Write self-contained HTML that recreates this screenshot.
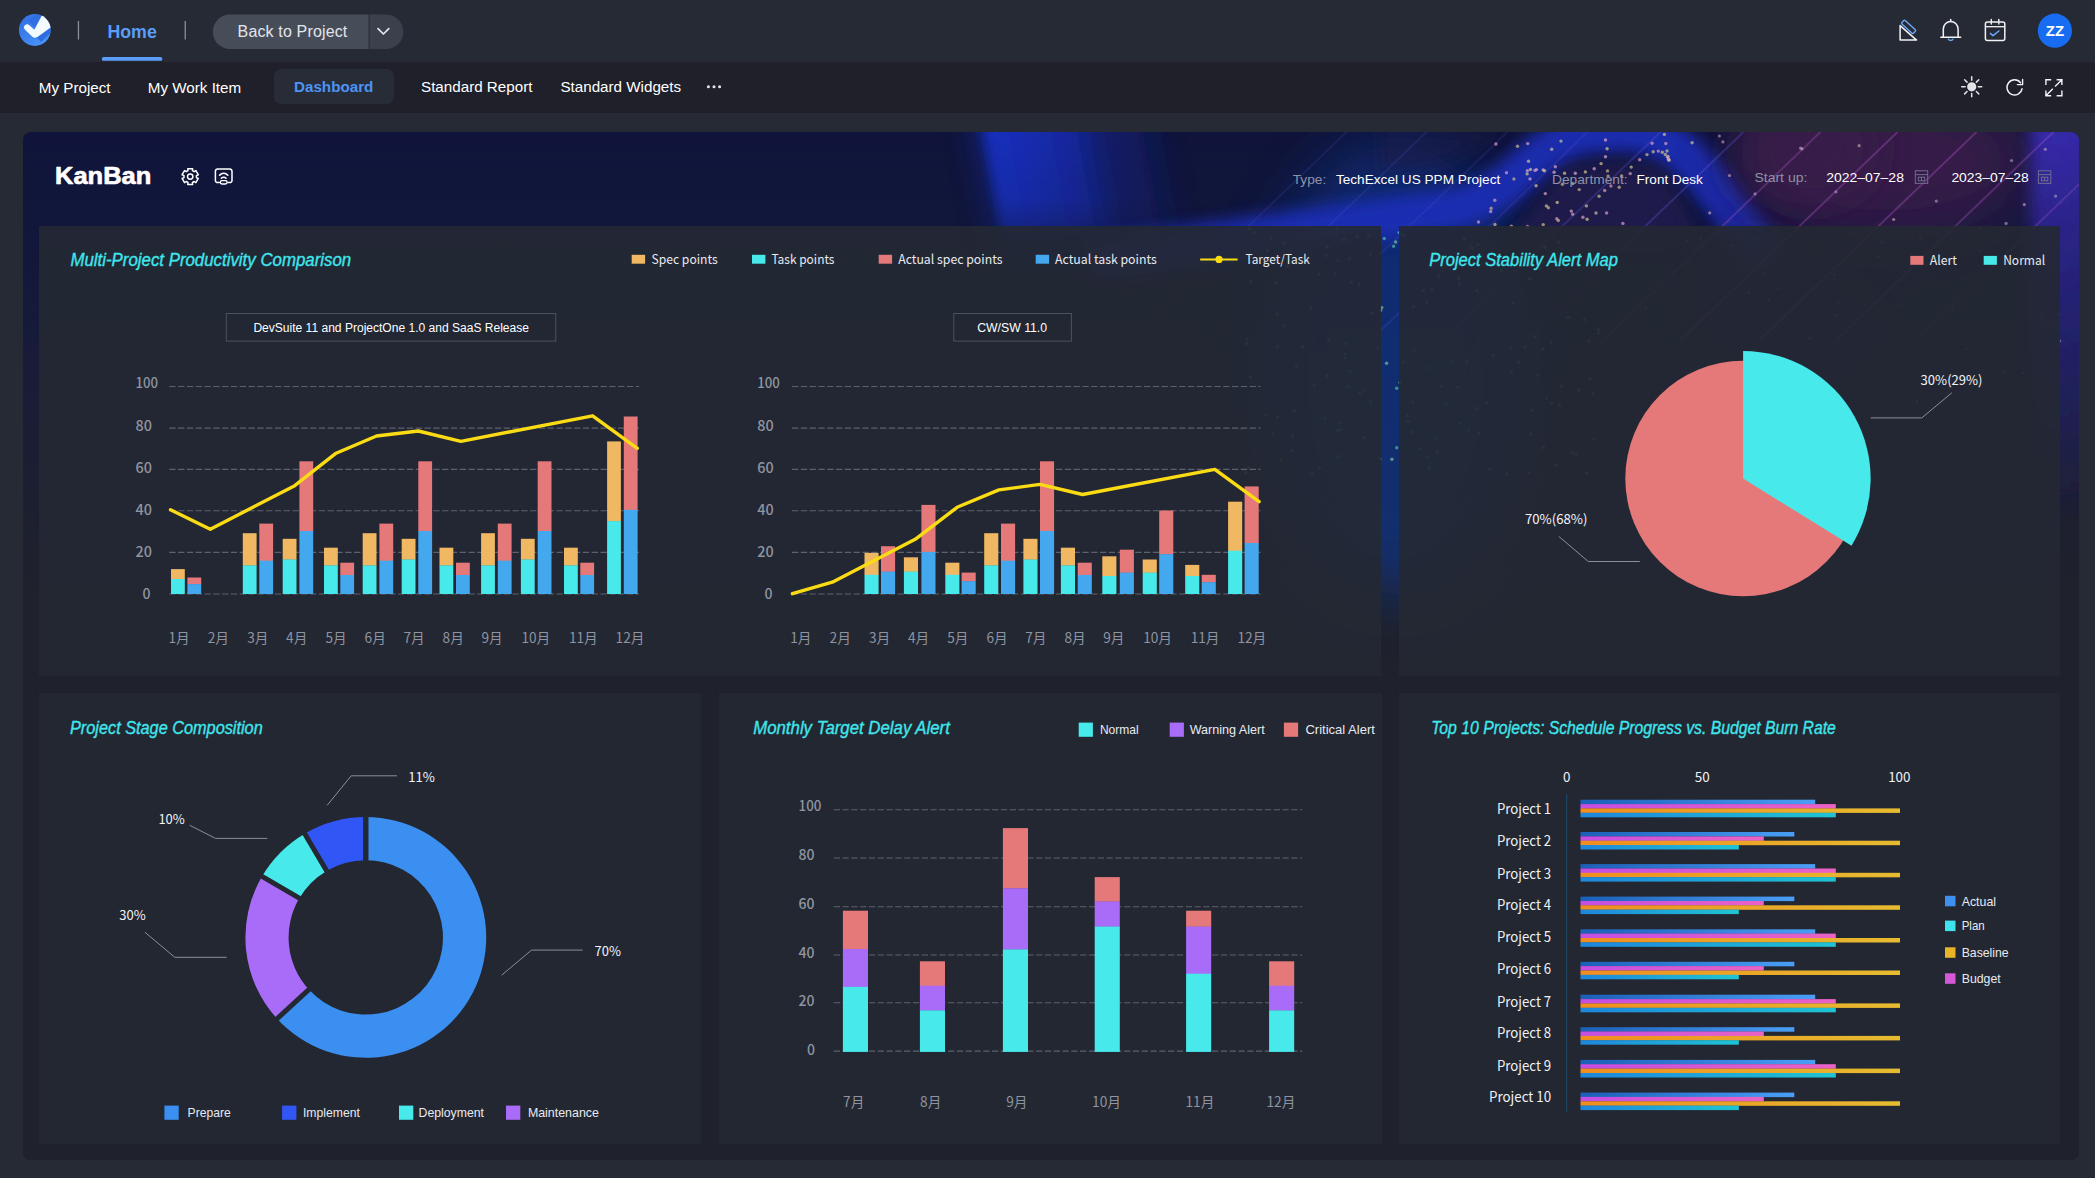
<!DOCTYPE html>
<html lang="en"><head><meta charset="utf-8"><title>KanBan Dashboard</title>
<style>
*{box-sizing:border-box;margin:0;padding:0}
html,body{width:2095px;height:1178px;overflow:hidden}
body{position:relative;background:#262a34;font-family:"Liberation Sans","Noto Sans CJK SC",sans-serif;color:#fff}
.abs{position:absolute}
.t{position:absolute;white-space:nowrap;line-height:1}
.noto{font-family:"Noto Sans CJK SC","Liberation Sans",sans-serif}
#topbar{position:absolute;left:0;top:0;width:2095px;height:62px;background:#262a35}
#subbar{position:absolute;left:0;top:62px;width:2095px;height:51px;background:#1f2029}
#board{position:absolute;left:22.5px;top:132px;width:2056px;height:1028px;border-radius:8px;overflow:hidden;background:#1f212c}
.panel{position:absolute;background:rgba(36,40,51,0.915)}
.ptitle{position:absolute;white-space:nowrap;line-height:1;font-style:italic;color:#3fe3ea;font-size:18px;letter-spacing:-0.9px;font-family:"Liberation Sans",sans-serif}
.lg{position:absolute;white-space:nowrap;line-height:1;font-size:13px;color:#e6e8ee}
.ax{position:absolute;white-space:nowrap;line-height:1;font-size:14px;color:#8e95a1;font-family:"Noto Sans CJK SC","Liberation Sans",sans-serif}
.sw{position:absolute}
svg{position:absolute;left:0;top:0;overflow:visible}
</style></head>
<body>
<div id="topbar">
<svg width="2095" height="62" viewBox="0 0 2095 62">
 <defs>
  <linearGradient id="lgLogo" x1="0" y1="0" x2="1" y2="1"><stop offset="0" stop-color="#2f6ce0"/><stop offset="1" stop-color="#4d9bff"/></linearGradient>
 </defs>
 <clipPath id="cpLogo"><circle cx="34.8" cy="30" r="15.9"/></clipPath>
 <circle cx="34.8" cy="30" r="15.9" fill="url(#lgLogo)"/>
 <g clip-path="url(#cpLogo)">
  <path d="M34.6 35 L50 19.5 L53 31 L41 42 Z" fill="#1f55d2" opacity="0.6"/><path d="M28 20 L36 29 L46 17 L40 12 Z" fill="#2a62d8" opacity="0.5"/>
  <path d="M27.2 27.5 L34.6 34.4 L44 25" fill="none" stroke="#f4fbff" stroke-width="6.3" stroke-linejoin="round" stroke-linecap="round"/><path d="M34.6 29.2 L42.4 14.5 L54 14 L54 25 L36.8 37.4 L33.6 34.4 Z" fill="#f4fbff"/>
 </g>
 <rect x="77.8" y="21" width="1.3" height="18.5" fill="#8b909c"/>
 <rect x="184.6" y="21" width="1.3" height="18.5" fill="#8b909c"/>
 <rect x="101.8" y="57" width="60.6" height="3.8" rx="1.9" fill="#5b9df7"/>
 <path d="M230.2 14.4 H368.5 V49.1 H230.2 A17.35 17.35 0 0 1 230.2 14.4 Z" fill="#474c59"/>
 <path d="M369.5 14.4 H386 A17.35 17.35 0 0 1 386 49.1 H369.5 Z" fill="#3b404c"/>
 <path d="M378 28.6 L383.4 34 L388.8 28.6" fill="none" stroke="#e4e7ee" stroke-width="1.7" stroke-linecap="round" stroke-linejoin="round"/>
</svg>
<div class="t" style="left:107.4px;top:24.1px;font-size:17.8px;font-weight:bold;color:#5b9df7">Home</div>
<div class="t" style="left:237.6px;top:24.2px;font-size:16px;letter-spacing:0.15px;color:#e2e5ec">Back to Project</div>
</div>
<div id="subbar">
<div class="abs" style="left:274px;top:7px;width:120px;height:35px;border-radius:7px;background:#282c37"></div>
<div class="t" style="left:38.8px;top:18px;font-size:15.2px;color:#fff">My Project</div>
<div class="t" style="left:147.8px;top:18px;font-size:15.2px;color:#fff">My Work Item</div>
<div class="t" style="left:294px;top:17px;font-size:15.2px;font-weight:bold;color:#4c94f5">Dashboard</div>
<div class="t" style="left:421px;top:17px;font-size:15.2px;color:#fff">Standard Report</div>
<div class="t" style="left:560.4px;top:17px;font-size:15.2px;color:#fff">Standard Widgets</div>
<svg width="2095" height="51" viewBox="0 62 2095 51">
 <circle cx="708.4" cy="86.8" r="1.5" fill="#e6e8ee"/><circle cx="714" cy="86.8" r="1.5" fill="#e6e8ee"/><circle cx="719.6" cy="86.8" r="1.5" fill="#e6e8ee"/>
</svg>
</div>
<div id="board">
<svg id="bg" width="2056" height="1028" viewBox="22.5 132 2056 1028">
<defs>
<linearGradient id="bgBase" x1="0" y1="0" x2="0" y2="1"><stop offset="0" stop-color="#10143a"/><stop offset="0.09" stop-color="#11163b"/><stop offset="0.20" stop-color="#171b3a"/><stop offset="0.34" stop-color="#1c1f31"/><stop offset="0.45" stop-color="#1f212c"/><stop offset="1" stop-color="#1f212c"/></linearGradient>
<linearGradient id="bgBand" gradientUnits="userSpaceOnUse" x1="978" y1="0" x2="1185" y2="0" gradientTransform="translate(-24.1 0) skewX(10.33)"><stop offset="0.000" stop-color="#1631c8" stop-opacity="0.000"/><stop offset="0.042" stop-color="#1530c5" stop-opacity="0.852"/><stop offset="0.083" stop-color="#152fc2" stop-opacity="0.919"/><stop offset="0.125" stop-color="#152fc0" stop-opacity="0.915"/><stop offset="0.167" stop-color="#152ebd" stop-opacity="0.910"/><stop offset="0.208" stop-color="#152dba" stop-opacity="0.903"/><stop offset="0.250" stop-color="#152db8" stop-opacity="0.896"/><stop offset="0.292" stop-color="#152cb5" stop-opacity="0.889"/><stop offset="0.333" stop-color="#152cb2" stop-opacity="0.884"/><stop offset="0.375" stop-color="#152bb0" stop-opacity="0.881"/><stop offset="0.417" stop-color="#152aad" stop-opacity="0.875"/><stop offset="0.458" stop-color="#152aaa" stop-opacity="0.821"/><stop offset="0.500" stop-color="#1529a8" stop-opacity="0.728"/><stop offset="0.542" stop-color="#1428a5" stop-opacity="0.619"/><stop offset="0.583" stop-color="#1428a2" stop-opacity="0.516"/><stop offset="0.625" stop-color="#1427a0" stop-opacity="0.443"/><stop offset="0.667" stop-color="#14279d" stop-opacity="0.420"/><stop offset="0.708" stop-color="#14269a" stop-opacity="0.397"/><stop offset="0.750" stop-color="#142598" stop-opacity="0.347"/><stop offset="0.792" stop-color="#142595" stop-opacity="0.280"/><stop offset="0.833" stop-color="#142492" stop-opacity="0.204"/><stop offset="0.875" stop-color="#142390" stop-opacity="0.129"/><stop offset="0.917" stop-color="#14238d" stop-opacity="0.063"/><stop offset="0.958" stop-color="#14228a" stop-opacity="0.017"/><stop offset="1.000" stop-color="#142288" stop-opacity="0.000"/></linearGradient>
<linearGradient id="bgBandV" x1="0" y1="0" x2="0" y2="1"><stop offset="0" stop-color="#fff" stop-opacity="1"/><stop offset="0.2" stop-color="#fff" stop-opacity="0.85"/><stop offset="0.3" stop-color="#fff" stop-opacity="0.55"/><stop offset="0.44" stop-color="#fff" stop-opacity="0"/><stop offset="1" stop-color="#fff" stop-opacity="0"/></linearGradient>
<mask id="mBand"><rect x="900" y="132" width="400" height="330" fill="url(#bgBandV)"/></mask>
<linearGradient id="bgRight" x1="0" y1="0" x2="0" y2="1"><stop offset="0" stop-color="#3a2bb4" stop-opacity="0.95"/><stop offset="0.5" stop-color="#2b2590" stop-opacity="0.6"/><stop offset="1" stop-color="#2b2590" stop-opacity="0"/></linearGradient>
<filter id="bl8" x="-30%" y="-30%" width="160%" height="160%"><feGaussianBlur stdDeviation="8"/></filter>
<filter id="bl16" x="-40%" y="-40%" width="180%" height="180%"><feGaussianBlur stdDeviation="16"/></filter>
<filter id="bl30" x="-50%" y="-50%" width="200%" height="200%"><feGaussianBlur stdDeviation="30"/></filter>
<filter id="bl1" filterUnits="userSpaceOnUse" x="1000" y="100" width="1100" height="500"><feGaussianBlur stdDeviation="0.7"/></filter>
<filter id="bl3" x="-20%" y="-20%" width="140%" height="140%"><feGaussianBlur stdDeviation="5"/></filter>
</defs>
<rect x="22" y="132" width="2058" height="1030" fill="url(#bgBase)"/>
<ellipse cx="1395" cy="370" rx="135" ry="225" fill="#103894" opacity="0.62" filter="url(#bl30)"/>
<path d="M1090 260 L1400 217 C1440 212, 1472 209, 1500 189 C1524 171, 1540 150, 1570 138 C1590 131, 1632 128, 1656 137 C1692 151, 1722 200, 1766 258" fill="none" stroke="#1f2db8" stroke-width="42" stroke-linejoin="round" opacity="0.92" filter="url(#bl8)"/>
<path d="M1380 132 L1500 132 L1450 160 L1380 175 Z" fill="#1f1a4a" opacity="0.5" filter="url(#bl8)"/>
<path d="M1506 246 L1560 170 C1582 160, 1640 160, 1662 168 L1710 246 Z" fill="#211c50" opacity="0.8" filter="url(#bl8)"/>
<ellipse cx="1885" cy="160" rx="150" ry="80" fill="#391a4a" opacity="0.95" filter="url(#bl30)"/>
<ellipse cx="1810" cy="150" rx="70" ry="55" fill="#371a48" opacity="0.9" filter="url(#bl16)"/>
<path d="M1700 236 L1790 236 L1900 330 L1820 420 L1690 330 Z" fill="#231c50" opacity="0.6" filter="url(#bl16)"/>
<rect x="2030" y="120" width="60" height="400" fill="url(#bgRight)" filter="url(#bl8)"/>
<g mask="url(#mBand)"><path d="M972 110 L1040 110 L1104 460 L1036 460 Z" fill="#1630c4" opacity="0.5" filter="url(#bl16)"/><path d="M970 110 L1220 110 L1284 460 L1034 460 Z" fill="url(#bgBand)" filter="url(#bl3)"/></g>
<line x1="1128.0" y1="341.2" x2="1346" y2="131.92000000000002" stroke="#6a62f0" stroke-width="2" opacity="0.12" filter="url(#bl1)"/>
<line x1="1208.0" y1="341.2" x2="1426" y2="131.92000000000002" stroke="#6a62f0" stroke-width="2" opacity="0.14" filter="url(#bl1)"/>
<line x1="1289.0" y1="341.2" x2="1507" y2="131.92000000000002" stroke="#6a62f0" stroke-width="2" opacity="0.13" filter="url(#bl1)"/>
<line x1="1369.0" y1="341.2" x2="1587" y2="131.92000000000002" stroke="#6a62f0" stroke-width="2" opacity="0.15" filter="url(#bl1)"/>
<line x1="1442.0" y1="341.2" x2="1660" y2="131.92000000000002" stroke="#6a62f0" stroke-width="2" opacity="0.24" filter="url(#bl1)"/>
<line x1="1525.0" y1="341.2" x2="1743" y2="131.92000000000002" stroke="#6a62f0" stroke-width="2" opacity="0.27" filter="url(#bl1)"/>
<line x1="1602.0" y1="341.2" x2="1820" y2="131.92000000000002" stroke="#c060d8" stroke-width="2" opacity="0.27" filter="url(#bl1)"/>
<line x1="1679.0" y1="341.2" x2="1897" y2="131.92000000000002" stroke="#c060d8" stroke-width="2" opacity="0.3" filter="url(#bl1)"/>
<line x1="1758.0" y1="341.2" x2="1976" y2="131.92000000000002" stroke="#c060d8" stroke-width="2" opacity="0.3" filter="url(#bl1)"/>
<line x1="1835.0" y1="341.2" x2="2053" y2="131.92000000000002" stroke="#c060d8" stroke-width="2" opacity="0.27" filter="url(#bl1)"/>
<line x1="1915.0" y1="341.2" x2="2133" y2="131.92000000000002" stroke="#c060d8" stroke-width="2" opacity="0.22" filter="url(#bl1)"/>
<circle cx="1478.0" cy="222.0" r="1.7" fill="#d79ac6" opacity="0.7"/>
<circle cx="1494.5" cy="224.5" r="1.7" fill="#cfc08f" opacity="0.7"/>
<circle cx="1510.9" cy="226.3" r="1.7" fill="#cfc08f" opacity="0.7"/>
<circle cx="1527.0" cy="226.5" r="1.7" fill="#d79ac6" opacity="0.7"/>
<circle cx="1542.7" cy="224.6" r="1.7" fill="#cfc08f" opacity="0.7"/>
<circle cx="1557.8" cy="220.5" r="1.7" fill="#cfc08f" opacity="0.7"/>
<circle cx="1572.2" cy="214.2" r="1.7" fill="#d79ac6" opacity="0.7"/>
<circle cx="1585.9" cy="205.9" r="1.7" fill="#cfc08f" opacity="0.7"/>
<circle cx="1598.6" cy="196.3" r="1.7" fill="#cfc08f" opacity="0.7"/>
<circle cx="1610.4" cy="186.0" r="1.7" fill="#d79ac6" opacity="0.7"/>
<circle cx="1621.1" cy="176.0" r="1.7" fill="#cfc08f" opacity="0.7"/>
<circle cx="1630.7" cy="167.1" r="1.7" fill="#cfc08f" opacity="0.7"/>
<circle cx="1639.2" cy="159.8" r="1.7" fill="#d79ac6" opacity="0.7"/>
<circle cx="1646.5" cy="154.6" r="1.7" fill="#cfc08f" opacity="0.7"/>
<circle cx="1652.7" cy="151.8" r="1.7" fill="#cfc08f" opacity="0.7"/>
<circle cx="1657.8" cy="151.1" r="1.7" fill="#d79ac6" opacity="0.7"/>
<circle cx="1661.8" cy="152.2" r="1.7" fill="#cfc08f" opacity="0.7"/>
<circle cx="1664.8" cy="154.5" r="1.7" fill="#cfc08f" opacity="0.7"/>
<circle cx="1666.8" cy="157.1" r="1.7" fill="#d79ac6" opacity="0.7"/>
<circle cx="1668.0" cy="159.3" r="1.7" fill="#cfc08f" opacity="0.7"/>
<circle cx="1668.5" cy="160.3" r="1.7" fill="#cfc08f" opacity="0.7"/>
<circle cx="1668.3" cy="159.4" r="1.7" fill="#d79ac6" opacity="0.7"/>
<circle cx="1667.6" cy="156.4" r="1.7" fill="#cfc08f" opacity="0.7"/>
<circle cx="1666.5" cy="151.0" r="1.7" fill="#cfc08f" opacity="0.7"/>
<circle cx="1665.3" cy="143.5" r="1.7" fill="#d79ac6" opacity="0.7"/>
<circle cx="1663.9" cy="134.4" r="1.7" fill="#cfc08f" opacity="0.7"/>
<circle cx="1605.0" cy="140.0" r="1.7" fill="#e0a8cc" opacity="0.7"/>
<circle cx="1606.6" cy="148.7" r="1.7" fill="#d9c890" opacity="0.7"/>
<circle cx="1605.0" cy="156.8" r="1.7" fill="#e0a8cc" opacity="0.7"/>
<circle cx="1600.6" cy="163.6" r="1.7" fill="#d9c890" opacity="0.7"/>
<circle cx="1593.7" cy="168.7" r="1.7" fill="#e0a8cc" opacity="0.7"/>
<circle cx="1584.9" cy="171.9" r="1.7" fill="#d9c890" opacity="0.7"/>
<circle cx="1574.8" cy="173.3" r="1.7" fill="#e0a8cc" opacity="0.7"/>
<circle cx="1564.1" cy="173.3" r="1.7" fill="#d9c890" opacity="0.7"/>
<circle cx="1553.6" cy="172.2" r="1.7" fill="#e0a8cc" opacity="0.7"/>
<circle cx="1544.0" cy="170.7" r="1.7" fill="#d9c890" opacity="0.7"/>
<circle cx="1535.9" cy="169.6" r="1.7" fill="#e0a8cc" opacity="0.7"/>
<circle cx="1530.0" cy="169.5" r="1.7" fill="#d9c890" opacity="0.7"/>
<circle cx="1526.8" cy="170.8" r="1.7" fill="#e0a8cc" opacity="0.7"/>
<circle cx="1526.6" cy="173.9" r="1.7" fill="#d9c890" opacity="0.7"/>
<circle cx="1529.5" cy="178.9" r="1.7" fill="#e0a8cc" opacity="0.7"/>
<circle cx="1535.6" cy="185.7" r="1.7" fill="#d9c890" opacity="0.7"/>
<circle cx="1544.8" cy="193.6" r="1.7" fill="#e0a8cc" opacity="0.7"/>
<circle cx="1556.7" cy="202.4" r="1.7" fill="#d9c890" opacity="0.7"/>
<circle cx="1570.8" cy="211.1" r="1.7" fill="#e0a8cc" opacity="0.7"/>
<circle cx="1586.6" cy="219.2" r="1.7" fill="#d9c890" opacity="0.7"/>
<circle cx="1551.2" cy="149.3" r="1.7" fill="#c9c4a0" opacity="0.7"/>
<circle cx="1490.6" cy="208.3" r="1.7" fill="#cbb88a" opacity="0.7"/>
<circle cx="1560.5" cy="141.1" r="1.7" fill="#c9c4a0" opacity="0.7"/>
<circle cx="1527.2" cy="143.6" r="1.7" fill="#d8a0c8" opacity="0.7"/>
<circle cx="1495.4" cy="144.0" r="1.7" fill="#d8a0c8" opacity="0.7"/>
<circle cx="1618.7" cy="187.3" r="1.7" fill="#cbb88a" opacity="0.7"/>
<circle cx="1607.0" cy="170.9" r="1.7" fill="#cbb88a" opacity="0.7"/>
<circle cx="1490.2" cy="211.5" r="1.7" fill="#d8a0c8" opacity="0.7"/>
<circle cx="1572.2" cy="183.6" r="1.7" fill="#c9c4a0" opacity="0.7"/>
<circle cx="1547.9" cy="207.8" r="1.7" fill="#cbb88a" opacity="0.7"/>
<circle cx="1561.9" cy="184.2" r="1.7" fill="#cbb88a" opacity="0.7"/>
<circle cx="1604.2" cy="190.5" r="1.7" fill="#d8a0c8" opacity="0.7"/>
<circle cx="1629.7" cy="173.6" r="1.7" fill="#d8a0c8" opacity="0.7"/>
<circle cx="1582.4" cy="217.3" r="1.7" fill="#d8a0c8" opacity="0.7"/>
<circle cx="1545.9" cy="205.9" r="1.7" fill="#c9c4a0" opacity="0.7"/>
<circle cx="1651.6" cy="143.2" r="1.7" fill="#d8a0c8" opacity="0.7"/>
<circle cx="1595.5" cy="213.0" r="1.7" fill="#c9c4a0" opacity="0.7"/>
<circle cx="1578.7" cy="189.6" r="1.7" fill="#cbb88a" opacity="0.7"/>
<circle cx="1506.0" cy="172.8" r="1.7" fill="#d8a0c8" opacity="0.7"/>
<circle cx="1513.4" cy="179.0" r="1.7" fill="#cbb88a" opacity="0.7"/>
<circle cx="1691.6" cy="142.8" r="1.7" fill="#c9c4a0" opacity="0.7"/>
<circle cx="1606.1" cy="213.0" r="1.7" fill="#d8a0c8" opacity="0.7"/>
<circle cx="1554.8" cy="166.8" r="1.7" fill="#d8a0c8" opacity="0.7"/>
<circle cx="1607.6" cy="176.1" r="1.7" fill="#cbb88a" opacity="0.7"/>
<circle cx="1494.3" cy="200.3" r="1.7" fill="#d8a0c8" opacity="0.7"/>
<circle cx="1622.4" cy="223.4" r="1.7" fill="#d8a0c8" opacity="0.7"/>
<circle cx="1542.6" cy="169.9" r="1.7" fill="#c9c4a0" opacity="0.7"/>
<circle cx="1556.3" cy="218.8" r="1.7" fill="#d8a0c8" opacity="0.7"/>
<circle cx="1517.0" cy="146.3" r="1.7" fill="#cbb88a" opacity="0.7"/>
<circle cx="1528.0" cy="161.3" r="1.7" fill="#c9c4a0" opacity="0.7"/>
<circle cx="1534.5" cy="170.4" r="1.7" fill="#d8a0c8" opacity="0.7"/>
<circle cx="1729.0" cy="175.5" r="1.6" fill="#d8b0c0" opacity="0.6"/>
<circle cx="1800.0" cy="148.0" r="1.6" fill="#b8a0d8" opacity="0.6"/>
<circle cx="2011.0" cy="160.5" r="1.6" fill="#b8a0d8" opacity="0.6"/>
<circle cx="2055.1" cy="196.1" r="1.6" fill="#b8a0d8" opacity="0.6"/>
<circle cx="2044.8" cy="149.3" r="1.6" fill="#c9a0c8" opacity="0.6"/>
<circle cx="1754.5" cy="193.9" r="1.6" fill="#c9a0c8" opacity="0.6"/>
<circle cx="1801.5" cy="148.8" r="1.6" fill="#d8b0c0" opacity="0.6"/>
<circle cx="1935.8" cy="201.1" r="1.6" fill="#b8a0d8" opacity="0.6"/>
<circle cx="2023.8" cy="204.6" r="1.6" fill="#d8b0c0" opacity="0.6"/>
<circle cx="1722.4" cy="141.9" r="1.6" fill="#c9a0c8" opacity="0.6"/>
<circle cx="1858.6" cy="145.7" r="1.6" fill="#d8b0c0" opacity="0.6"/>
<circle cx="1718.9" cy="136.0" r="1.6" fill="#c9a0c8" opacity="0.6"/>
<circle cx="1893.2" cy="219.5" r="1.6" fill="#d8b0c0" opacity="0.6"/>
<circle cx="1709.2" cy="212.9" r="1.6" fill="#d8b0c0" opacity="0.6"/>
<circle cx="1835.4" cy="191.8" r="1.6" fill="#b8a0d8" opacity="0.6"/>
<circle cx="2005.6" cy="223.4" r="1.6" fill="#b8a0d8" opacity="0.6"/>
<circle cx="1412.9" cy="306.6" r="1.7" fill="#4fc79a" opacity="0.65"/>
<circle cx="1276.8" cy="314.3" r="1.7" fill="#58c8b0" opacity="0.65"/>
<circle cx="1412.3" cy="402.4" r="1.7" fill="#7ad0a0" opacity="0.65"/>
<circle cx="1248.3" cy="467.6" r="1.7" fill="#7ad0a0" opacity="0.65"/>
<circle cx="1370.2" cy="401.9" r="1.7" fill="#4fc79a" opacity="0.65"/>
<circle cx="1512.9" cy="303.1" r="1.7" fill="#7ad0a0" opacity="0.65"/>
<circle cx="1550.8" cy="403.4" r="1.7" fill="#58c8b0" opacity="0.65"/>
<circle cx="1426.6" cy="456.9" r="1.7" fill="#58c8b0" opacity="0.65"/>
<circle cx="1517.9" cy="362.2" r="1.7" fill="#7ad0a0" opacity="0.65"/>
<circle cx="1358.7" cy="284.2" r="1.7" fill="#4fc79a" opacity="0.65"/>
<circle cx="1530.2" cy="434.2" r="1.7" fill="#7ad0a0" opacity="0.65"/>
<circle cx="1529.2" cy="278.4" r="1.7" fill="#58c8b0" opacity="0.65"/>
<circle cx="1368.0" cy="235.3" r="1.7" fill="#4fc79a" opacity="0.65"/>
<circle cx="1524.4" cy="347.0" r="1.7" fill="#4fc79a" opacity="0.65"/>
<circle cx="1489.3" cy="469.0" r="1.7" fill="#58c8b0" opacity="0.65"/>
<circle cx="1531.1" cy="410.2" r="1.7" fill="#58c8b0" opacity="0.65"/>
<circle cx="1583.8" cy="319.9" r="1.7" fill="#4fc79a" opacity="0.65"/>
<circle cx="1276.8" cy="346.5" r="1.7" fill="#58c8b0" opacity="0.65"/>
<circle cx="1313.6" cy="385.3" r="1.7" fill="#7ad0a0" opacity="0.65"/>
<circle cx="1542.6" cy="348.8" r="1.7" fill="#7ad0a0" opacity="0.65"/>
<circle cx="1363.8" cy="390.1" r="1.7" fill="#7ad0a0" opacity="0.65"/>
<circle cx="1283.2" cy="325.9" r="1.7" fill="#7ad0a0" opacity="0.65"/>
<circle cx="1510.1" cy="348.5" r="1.7" fill="#4fc79a" opacity="0.65"/>
<circle cx="1396.2" cy="388.2" r="1.7" fill="#4fc79a" opacity="0.65"/>
<circle cx="1528.3" cy="472.9" r="1.7" fill="#58c8b0" opacity="0.65"/>
<circle cx="1406.7" cy="415.3" r="1.7" fill="#4fc79a" opacity="0.65"/>
<circle cx="1500.9" cy="270.8" r="1.7" fill="#4fc79a" opacity="0.65"/>
<circle cx="1249.9" cy="376.9" r="1.7" fill="#58c8b0" opacity="0.65"/>
<circle cx="1530.3" cy="264.8" r="1.7" fill="#7ad0a0" opacity="0.65"/>
<circle cx="1592.9" cy="393.6" r="1.7" fill="#58c8b0" opacity="0.65"/>
<circle cx="1296.1" cy="366.2" r="1.7" fill="#4fc79a" opacity="0.65"/>
<circle cx="1245.1" cy="472.7" r="1.7" fill="#7ad0a0" opacity="0.65"/>
<circle cx="1277.0" cy="416.9" r="1.7" fill="#4fc79a" opacity="0.65"/>
<circle cx="1396.2" cy="447.7" r="1.7" fill="#4fc79a" opacity="0.65"/>
<circle cx="1250.1" cy="281.6" r="1.7" fill="#7ad0a0" opacity="0.65"/>
<circle cx="1326.6" cy="375.8" r="1.7" fill="#58c8b0" opacity="0.65"/>
<circle cx="1436.0" cy="438.2" r="1.7" fill="#4fc79a" opacity="0.65"/>
<circle cx="1567.6" cy="317.2" r="1.7" fill="#58c8b0" opacity="0.65"/>
<circle cx="1478.5" cy="433.4" r="1.7" fill="#7ad0a0" opacity="0.65"/>
<circle cx="1391.4" cy="459.3" r="1.7" fill="#7ad0a0" opacity="0.65"/>
<circle cx="1287.1" cy="266.3" r="1.7" fill="#7ad0a0" opacity="0.65"/>
<circle cx="1246.7" cy="338.9" r="1.7" fill="#4fc79a" opacity="0.65"/>
<circle cx="1459.1" cy="423.6" r="1.7" fill="#4fc79a" opacity="0.65"/>
<circle cx="1302.0" cy="347.3" r="1.7" fill="#7ad0a0" opacity="0.65"/>
<circle cx="1283.3" cy="243.6" r="1.7" fill="#7ad0a0" opacity="0.65"/>
<circle cx="1426.6" cy="368.0" r="1.7" fill="#4fc79a" opacity="0.65"/>
<circle cx="1558.0" cy="242.3" r="1.7" fill="#4fc79a" opacity="0.65"/>
<circle cx="1339.7" cy="422.6" r="1.7" fill="#7ad0a0" opacity="0.65"/>
<circle cx="1402.8" cy="235.0" r="1.7" fill="#4fc79a" opacity="0.65"/>
<circle cx="1399.6" cy="382.4" r="1.7" fill="#7ad0a0" opacity="0.65"/>
<circle cx="1458.2" cy="278.2" r="1.7" fill="#58c8b0" opacity="0.65"/>
<circle cx="1402.8" cy="362.4" r="1.7" fill="#58c8b0" opacity="0.65"/>
<circle cx="1422.8" cy="290.4" r="1.7" fill="#7ad0a0" opacity="0.65"/>
<circle cx="1555.6" cy="465.4" r="1.7" fill="#58c8b0" opacity="0.65"/>
<circle cx="1572.2" cy="453.0" r="1.7" fill="#4fc79a" opacity="0.65"/>
<circle cx="1542.4" cy="262.6" r="1.7" fill="#4fc79a" opacity="0.65"/>
<circle cx="1381.3" cy="307.6" r="1.7" fill="#7ad0a0" opacity="0.65"/>
<circle cx="1326.6" cy="246.4" r="1.7" fill="#7ad0a0" opacity="0.65"/>
<circle cx="1349.0" cy="258.8" r="1.7" fill="#4fc79a" opacity="0.65"/>
<circle cx="1578.2" cy="390.2" r="1.7" fill="#58c8b0" opacity="0.65"/>
<circle cx="1291.5" cy="450.5" r="1.7" fill="#58c8b0" opacity="0.65"/>
<circle cx="1319.1" cy="468.0" r="1.7" fill="#58c8b0" opacity="0.65"/>
<circle cx="1558.6" cy="269.0" r="1.7" fill="#7ad0a0" opacity="0.65"/>
<circle cx="1539.7" cy="268.7" r="1.7" fill="#58c8b0" opacity="0.65"/>
<circle cx="1597.9" cy="329.8" r="1.7" fill="#58c8b0" opacity="0.65"/>
<circle cx="1310.5" cy="308.3" r="1.7" fill="#7ad0a0" opacity="0.65"/>
<circle cx="1371.7" cy="313.2" r="1.7" fill="#58c8b0" opacity="0.65"/>
<circle cx="1398.6" cy="232.6" r="1.7" fill="#58c8b0" opacity="0.65"/>
<circle cx="1426.3" cy="302.5" r="1.7" fill="#4fc79a" opacity="0.65"/>
<circle cx="1280.6" cy="459.5" r="1.7" fill="#4fc79a" opacity="0.65"/>
<circle cx="1589.8" cy="254.4" r="1.7" fill="#58c8b0" opacity="0.65"/>
<circle cx="1337.9" cy="456.3" r="1.7" fill="#4fc79a" opacity="0.65"/>
<circle cx="1337.4" cy="260.6" r="1.7" fill="#58c8b0" opacity="0.65"/>
<circle cx="1545.9" cy="398.3" r="1.7" fill="#58c8b0" opacity="0.65"/>
<circle cx="1386.1" cy="363.2" r="1.7" fill="#7ad0a0" opacity="0.65"/>
<circle cx="1445.4" cy="404.5" r="1.7" fill="#4fc79a" opacity="0.65"/>
<circle cx="1340.5" cy="429.5" r="1.7" fill="#4fc79a" opacity="0.65"/>
<circle cx="1393.1" cy="246.2" r="1.7" fill="#4fc79a" opacity="0.65"/>
<circle cx="1468.4" cy="430.0" r="1.7" fill="#4fc79a" opacity="0.65"/>
<circle cx="1458.9" cy="284.0" r="1.7" fill="#58c8b0" opacity="0.65"/>
<circle cx="1550.6" cy="342.4" r="1.7" fill="#58c8b0" opacity="0.65"/>
<circle cx="1598.0" cy="333.3" r="1.7" fill="#58c8b0" opacity="0.65"/>
<circle cx="1463.8" cy="238.9" r="1.7" fill="#7ad0a0" opacity="0.65"/>
<circle cx="1325.8" cy="255.6" r="1.7" fill="#4fc79a" opacity="0.65"/>
<circle cx="1334.3" cy="273.6" r="1.7" fill="#58c8b0" opacity="0.65"/>
<circle cx="1466.3" cy="361.8" r="1.7" fill="#4fc79a" opacity="0.65"/>
<circle cx="1344.4" cy="354.0" r="1.7" fill="#4fc79a" opacity="0.65"/>
<circle cx="1337.4" cy="430.5" r="1.7" fill="#58c8b0" opacity="0.65"/>
<circle cx="1253.3" cy="232.6" r="1.7" fill="#7ad0a0" opacity="0.65"/>
<circle cx="1438.4" cy="275.7" r="1.7" fill="#58c8b0" opacity="0.65"/>
<circle cx="1328.4" cy="340.7" r="1.7" fill="#7ad0a0" opacity="0.65"/>
<circle cx="1534.8" cy="336.9" r="1.7" fill="#58c8b0" opacity="0.65"/>
<circle cx="1436.5" cy="452.0" r="1.7" fill="#7ad0a0" opacity="0.65"/>
<circle cx="1350.8" cy="282.2" r="1.7" fill="#4fc79a" opacity="0.65"/>
<circle cx="1363.4" cy="437.7" r="1.7" fill="#7ad0a0" opacity="0.65"/>
<circle cx="1502.4" cy="263.2" r="1.7" fill="#58c8b0" opacity="0.65"/>
<circle cx="1593.5" cy="438.9" r="1.7" fill="#4fc79a" opacity="0.65"/>
<circle cx="1265.5" cy="414.7" r="1.7" fill="#58c8b0" opacity="0.65"/>
<circle cx="1395.1" cy="242.0" r="1.7" fill="#7ad0a0" opacity="0.65"/>
<circle cx="1542.9" cy="447.4" r="1.7" fill="#7ad0a0" opacity="0.65"/>
<circle cx="1589.5" cy="378.9" r="1.7" fill="#7ad0a0" opacity="0.65"/>
<circle cx="1345.5" cy="343.8" r="1.7" fill="#4fc79a" opacity="0.65"/>
<circle cx="1336.9" cy="228.9" r="1.7" fill="#58c8b0" opacity="0.65"/>
<circle cx="1586.2" cy="473.1" r="1.7" fill="#7ad0a0" opacity="0.65"/>
<circle cx="1356.5" cy="236.7" r="1.7" fill="#58c8b0" opacity="0.65"/>
<circle cx="1318.4" cy="274.1" r="1.7" fill="#58c8b0" opacity="0.65"/>
<circle cx="1377.4" cy="347.6" r="1.7" fill="#7ad0a0" opacity="0.65"/>
<circle cx="1476.2" cy="290.5" r="1.7" fill="#4fc79a" opacity="0.65"/>
<circle cx="1272.7" cy="433.9" r="1.7" fill="#4fc79a" opacity="0.65"/>
<circle cx="1383.8" cy="238.5" r="1.7" fill="#4fc79a" opacity="0.65"/>
<circle cx="1347.9" cy="386.7" r="1.7" fill="#4fc79a" opacity="0.65"/>
<circle cx="1450.8" cy="361.4" r="1.7" fill="#4fc79a" opacity="0.65"/>
<circle cx="1476.7" cy="408.4" r="1.7" fill="#7ad0a0" opacity="0.65"/>
<circle cx="1380.2" cy="310.2" r="1.7" fill="#58c8b0" opacity="0.65"/>
<circle cx="1293.8" cy="410.5" r="1.7" fill="#7ad0a0" opacity="0.65"/>
<circle cx="1292.1" cy="435.9" r="1.7" fill="#7ad0a0" opacity="0.65"/>
<circle cx="1561.1" cy="386.1" r="1.7" fill="#7ad0a0" opacity="0.65"/>
<circle cx="1492.4" cy="355.4" r="1.7" fill="#7ad0a0" opacity="0.65"/>
<circle cx="1511.0" cy="371.3" r="1.7" fill="#4fc79a" opacity="0.65"/>
<circle cx="1537.5" cy="375.2" r="1.7" fill="#7ad0a0" opacity="0.65"/>
<circle cx="1485.8" cy="402.7" r="1.7" fill="#4fc79a" opacity="0.65"/>
<circle cx="1270.6" cy="238.5" r="1.7" fill="#7ad0a0" opacity="0.65"/>
<circle cx="1369.9" cy="254.4" r="1.7" fill="#58c8b0" opacity="0.65"/>
<circle cx="1441.1" cy="386.2" r="1.7" fill="#7ad0a0" opacity="0.65"/>
<circle cx="1431.3" cy="289.6" r="1.7" fill="#58c8b0" opacity="0.65"/>
<circle cx="1241.2" cy="429.0" r="1.7" fill="#7ad0a0" opacity="0.65"/>
<circle cx="1575.7" cy="454.3" r="1.7" fill="#4fc79a" opacity="0.65"/>
<circle cx="1477.3" cy="244.6" r="1.7" fill="#7ad0a0" opacity="0.65"/>
<circle cx="1410.6" cy="431.9" r="1.7" fill="#58c8b0" opacity="0.65"/>
<circle cx="1324.5" cy="418.6" r="1.7" fill="#4fc79a" opacity="0.65"/>
<circle cx="1506.3" cy="473.9" r="1.7" fill="#58c8b0" opacity="0.65"/>
<circle cx="1544.4" cy="247.3" r="1.7" fill="#7ad0a0" opacity="0.65"/>
<circle cx="1343.4" cy="239.8" r="1.7" fill="#7ad0a0" opacity="0.65"/>
<circle cx="1471.4" cy="247.5" r="1.7" fill="#4fc79a" opacity="0.65"/>
<circle cx="1359.4" cy="392.2" r="1.7" fill="#7ad0a0" opacity="0.65"/>
<circle cx="1349.6" cy="371.1" r="1.7" fill="#4fc79a" opacity="0.65"/>
<circle cx="1413.7" cy="350.4" r="1.7" fill="#7ad0a0" opacity="0.65"/>
<circle cx="1275.8" cy="282.9" r="1.7" fill="#58c8b0" opacity="0.65"/>
<circle cx="1344.7" cy="358.2" r="1.7" fill="#58c8b0" opacity="0.65"/>
<circle cx="1407.7" cy="421.3" r="1.7" fill="#7ad0a0" opacity="0.65"/>
<circle cx="1311.7" cy="474.5" r="1.7" fill="#58c8b0" opacity="0.65"/>
<circle cx="1246.3" cy="343.7" r="1.7" fill="#7ad0a0" opacity="0.65"/>
<circle cx="1588.5" cy="341.3" r="1.7" fill="#58c8b0" opacity="0.65"/>
<circle cx="1379.3" cy="459.0" r="1.7" fill="#4fc79a" opacity="0.65"/>
<circle cx="1266.9" cy="250.8" r="1.7" fill="#7ad0a0" opacity="0.65"/>
<circle cx="1428.7" cy="468.1" r="1.7" fill="#4fc79a" opacity="0.65"/>
<circle cx="1457.2" cy="387.2" r="1.7" fill="#58c8b0" opacity="0.65"/>
<circle cx="1559.3" cy="405.2" r="1.7" fill="#4fc79a" opacity="0.65"/>
<circle cx="1419.2" cy="448.8" r="1.7" fill="#58c8b0" opacity="0.65"/>
<circle cx="1248.9" cy="228.9" r="1.7" fill="#58c8b0" opacity="0.65"/>
<circle cx="1900.8" cy="305.8" r="1.3" fill="#8f88c8" opacity="0.6"/>
<circle cx="1768.1" cy="300.2" r="1.3" fill="#8f88c8" opacity="0.6"/>
<circle cx="1980.1" cy="228.3" r="1.3" fill="#a890c0" opacity="0.6"/>
<circle cx="1979.6" cy="251.0" r="1.3" fill="#8f88c8" opacity="0.6"/>
<circle cx="1916.5" cy="401.1" r="1.3" fill="#a890c0" opacity="0.6"/>
<circle cx="1686.6" cy="240.5" r="1.3" fill="#a890c0" opacity="0.6"/>
<circle cx="2059.4" cy="341.1" r="1.3" fill="#a890c0" opacity="0.6"/>
<circle cx="2022.7" cy="373.1" r="1.3" fill="#8f88c8" opacity="0.6"/>
<circle cx="1700.3" cy="237.9" r="1.3" fill="#a890c0" opacity="0.6"/>
<circle cx="1877.5" cy="256.6" r="1.3" fill="#a890c0" opacity="0.6"/>
<circle cx="1778.1" cy="288.6" r="1.3" fill="#a890c0" opacity="0.6"/>
<circle cx="1952.6" cy="310.1" r="1.3" fill="#8f88c8" opacity="0.6"/>
<circle cx="1966.0" cy="349.1" r="1.3" fill="#8f88c8" opacity="0.6"/>
<circle cx="1919.8" cy="237.5" r="1.3" fill="#a890c0" opacity="0.6"/>
<circle cx="1785.4" cy="372.5" r="1.3" fill="#a890c0" opacity="0.6"/>
<circle cx="1802.8" cy="403.1" r="1.3" fill="#8f88c8" opacity="0.6"/>
<circle cx="1645.4" cy="307.7" r="1.3" fill="#a890c0" opacity="0.6"/>
<circle cx="1708.9" cy="369.9" r="1.3" fill="#a890c0" opacity="0.6"/>
<circle cx="1763.1" cy="273.8" r="1.3" fill="#a890c0" opacity="0.6"/>
<circle cx="1838.7" cy="303.7" r="1.3" fill="#8f88c8" opacity="0.6"/>
<circle cx="1881.6" cy="242.4" r="1.3" fill="#a890c0" opacity="0.6"/>
<circle cx="1835.2" cy="315.0" r="1.3" fill="#a890c0" opacity="0.6"/>
<circle cx="2058.2" cy="314.4" r="1.3" fill="#8f88c8" opacity="0.6"/>
<circle cx="1833.9" cy="274.9" r="1.3" fill="#8f88c8" opacity="0.6"/>
<circle cx="1731.0" cy="245.5" r="1.3" fill="#8f88c8" opacity="0.6"/>
<circle cx="1744.2" cy="383.4" r="1.3" fill="#8f88c8" opacity="0.6"/>
<circle cx="2003.6" cy="371.9" r="1.3" fill="#a890c0" opacity="0.6"/>
<circle cx="1751.4" cy="371.2" r="1.3" fill="#8f88c8" opacity="0.6"/>
<circle cx="1748.4" cy="292.9" r="1.3" fill="#8f88c8" opacity="0.6"/>
<circle cx="1809.1" cy="338.3" r="1.3" fill="#a890c0" opacity="0.6"/>
</svg>
</div>
<div class="panel" style="left:39px;top:226px;width:1342px;height:449.5px"></div>
<div class="panel" style="left:1398.8px;top:226px;width:661.5px;height:449.5px"></div>
<div class="panel" style="left:39px;top:693.2px;width:662px;height:450.8px"></div>
<div class="panel" style="left:718.8px;top:693.2px;width:663.2px;height:450.8px"></div>
<div class="panel" style="left:1398.8px;top:693.2px;width:661.5px;height:450.8px"></div>
<svg id="ov" width="2095" height="1178" viewBox="0 0 2095 1178">
<text x="70.4" y="265.7" font-size="18" font-style="italic" font-family="'Liberation Sans','Noto Sans CJK SC',sans-serif" fill="#3fe6ec" stroke="#3fe6ec" stroke-width="0.35" textLength="280.8" lengthAdjust="spacingAndGlyphs">Multi-Project Productivity Comparison</text>
<rect x="631.7" y="254.8" width="13.4" height="8.9" fill="#f0b862"/>
<text x="651.5" y="264.0" font-size="13" font-family="'Noto Sans CJK SC','Liberation Sans',sans-serif" fill="#e8eaf0" textLength="66.1" lengthAdjust="spacingAndGlyphs">Spec points</text>
<rect x="752.0" y="254.8" width="13.4" height="8.9" fill="#47e9ea"/>
<text x="771.4" y="264.0" font-size="13" font-family="'Noto Sans CJK SC','Liberation Sans',sans-serif" fill="#e8eaf0" textLength="63.0" lengthAdjust="spacingAndGlyphs">Task points</text>
<rect x="878.7" y="254.8" width="13.4" height="8.9" fill="#e57979"/>
<text x="898.2" y="264.0" font-size="13" font-family="'Noto Sans CJK SC','Liberation Sans',sans-serif" fill="#e8eaf0" textLength="104.2" lengthAdjust="spacingAndGlyphs">Actual spec points</text>
<rect x="1035.7" y="254.8" width="13.4" height="8.9" fill="#44a8ee"/>
<text x="1055.1" y="264.0" font-size="13" font-family="'Noto Sans CJK SC','Liberation Sans',sans-serif" fill="#e8eaf0" textLength="101.6" lengthAdjust="spacingAndGlyphs">Actual task points</text>
<line x1="1200.2" y1="259.4" x2="1237.6" y2="259.4" stroke="#fadb14" stroke-width="2"/><circle cx="1219" cy="259.4" r="3.6" fill="#fadb14"/>
<text x="1245.6" y="264.0" font-size="13" font-family="'Noto Sans CJK SC','Liberation Sans',sans-serif" fill="#e8eaf0" textLength="64.2" lengthAdjust="spacingAndGlyphs">Target/Task</text>
<rect x="226.3" y="313.5" width="329.5" height="27.6" fill="none" stroke="#4d5260" stroke-width="1"/>
<text x="253.4" y="331.7" font-size="12.3" font-family="'Liberation Sans','Noto Sans CJK SC',sans-serif" fill="#fff" textLength="275.6" lengthAdjust="spacingAndGlyphs">DevSuite 11 and ProjectOne 1.0 and SaaS Release</text>
<rect x="953.8" y="313.5" width="117.6" height="27.6" fill="none" stroke="#4d5260" stroke-width="1"/>
<text x="977.2" y="331.7" font-size="12.3" font-family="'Liberation Sans','Noto Sans CJK SC',sans-serif" fill="#fff" textLength="69.9" lengthAdjust="spacingAndGlyphs">CW/SW 11.0</text>
<line x1="169.3" y1="386.5" x2="639" y2="386.5" stroke="#5c626d" stroke-width="1.1" stroke-dasharray="6.3 2.5"/>
<line x1="169.3" y1="428.1" x2="639" y2="428.1" stroke="#5c626d" stroke-width="1.1" stroke-dasharray="6.3 2.5"/>
<line x1="169.3" y1="469.4" x2="639" y2="469.4" stroke="#5c626d" stroke-width="1.1" stroke-dasharray="6.3 2.5"/>
<line x1="169.3" y1="510.8" x2="639" y2="510.8" stroke="#5c626d" stroke-width="1.1" stroke-dasharray="6.3 2.5"/>
<line x1="169.3" y1="552.4" x2="639" y2="552.4" stroke="#5c626d" stroke-width="1.1" stroke-dasharray="6.3 2.5"/>
<line x1="169.3" y1="594.0" x2="639" y2="594.0" stroke="#5c626d" stroke-width="1.1" stroke-dasharray="6.3 2.5"/>
<text x="135.5" y="387.7" font-size="14.4" font-family="'Noto Sans CJK SC','Liberation Sans',sans-serif" fill="#8e95a1" font-weight="500" textLength="22.6" lengthAdjust="spacingAndGlyphs">100</text>
<text x="135.5" y="430.5" font-size="14.4" font-family="'Noto Sans CJK SC','Liberation Sans',sans-serif" fill="#8e95a1" font-weight="500" textLength="16.4" lengthAdjust="spacingAndGlyphs">80</text>
<text x="135.5" y="472.6" font-size="14.4" font-family="'Noto Sans CJK SC','Liberation Sans',sans-serif" fill="#8e95a1" font-weight="500" textLength="16.4" lengthAdjust="spacingAndGlyphs">60</text>
<text x="135.5" y="514.8" font-size="14.4" font-family="'Noto Sans CJK SC','Liberation Sans',sans-serif" fill="#8e95a1" font-weight="500" textLength="16.4" lengthAdjust="spacingAndGlyphs">40</text>
<text x="135.5" y="557.0" font-size="14.4" font-family="'Noto Sans CJK SC','Liberation Sans',sans-serif" fill="#8e95a1" font-weight="500" textLength="16.4" lengthAdjust="spacingAndGlyphs">20</text>
<text x="142.6" y="598.5" font-size="14.4" font-family="'Noto Sans CJK SC','Liberation Sans',sans-serif" fill="#8e95a1" font-weight="500" textLength="8.0" lengthAdjust="spacingAndGlyphs">0</text>
<rect x="171.0" y="569.1" width="13.8" height="10.2" fill="#f0b862"/>
<rect x="171.0" y="579.0" width="13.8" height="15.0" fill="#47e9ea"/>
<rect x="187.4" y="577.5" width="13.8" height="6.9" fill="#e57979"/>
<rect x="187.4" y="584.1" width="13.8" height="9.9" fill="#44a8ee"/>
<rect x="242.8" y="533.2" width="13.8" height="32.5" fill="#f0b862"/>
<rect x="242.8" y="565.4" width="13.8" height="28.6" fill="#47e9ea"/>
<rect x="259.3" y="523.6" width="13.8" height="37.4" fill="#e57979"/>
<rect x="259.3" y="560.7" width="13.8" height="33.3" fill="#44a8ee"/>
<rect x="282.7" y="538.8" width="13.8" height="21.0" fill="#f0b862"/>
<rect x="282.7" y="559.5" width="13.8" height="34.5" fill="#47e9ea"/>
<rect x="299.4" y="461.3" width="13.8" height="70.0" fill="#e57979"/>
<rect x="299.4" y="531.0" width="13.8" height="63.0" fill="#44a8ee"/>
<rect x="324.0" y="547.7" width="13.8" height="18.0" fill="#f0b862"/>
<rect x="324.0" y="565.4" width="13.8" height="28.6" fill="#47e9ea"/>
<rect x="340.3" y="562.7" width="13.8" height="12.6" fill="#e57979"/>
<rect x="340.3" y="575.0" width="13.8" height="19.0" fill="#44a8ee"/>
<rect x="362.7" y="533.2" width="13.8" height="32.5" fill="#f0b862"/>
<rect x="362.7" y="565.4" width="13.8" height="28.6" fill="#47e9ea"/>
<rect x="379.4" y="523.6" width="13.8" height="37.4" fill="#e57979"/>
<rect x="379.4" y="560.7" width="13.8" height="33.3" fill="#44a8ee"/>
<rect x="401.7" y="538.8" width="13.8" height="21.0" fill="#f0b862"/>
<rect x="401.7" y="559.5" width="13.8" height="34.5" fill="#47e9ea"/>
<rect x="418.3" y="461.3" width="13.8" height="70.0" fill="#e57979"/>
<rect x="418.3" y="531.0" width="13.8" height="63.0" fill="#44a8ee"/>
<rect x="439.5" y="547.7" width="13.8" height="18.0" fill="#f0b862"/>
<rect x="439.5" y="565.4" width="13.8" height="28.6" fill="#47e9ea"/>
<rect x="456.0" y="562.7" width="13.8" height="12.6" fill="#e57979"/>
<rect x="456.0" y="575.0" width="13.8" height="19.0" fill="#44a8ee"/>
<rect x="481.1" y="533.2" width="13.8" height="32.5" fill="#f0b862"/>
<rect x="481.1" y="565.4" width="13.8" height="28.6" fill="#47e9ea"/>
<rect x="497.8" y="523.6" width="13.8" height="37.4" fill="#e57979"/>
<rect x="497.8" y="560.7" width="13.8" height="33.3" fill="#44a8ee"/>
<rect x="520.9" y="538.8" width="13.8" height="21.0" fill="#f0b862"/>
<rect x="520.9" y="559.5" width="13.8" height="34.5" fill="#47e9ea"/>
<rect x="537.7" y="461.3" width="13.8" height="70.0" fill="#e57979"/>
<rect x="537.7" y="531.0" width="13.8" height="63.0" fill="#44a8ee"/>
<rect x="564.0" y="547.7" width="13.8" height="18.0" fill="#f0b862"/>
<rect x="564.0" y="565.4" width="13.8" height="28.6" fill="#47e9ea"/>
<rect x="580.3" y="562.7" width="13.8" height="12.6" fill="#e57979"/>
<rect x="580.3" y="575.0" width="13.8" height="19.0" fill="#44a8ee"/>
<rect x="607.1" y="441.4" width="13.8" height="80.0" fill="#f0b862"/>
<rect x="607.1" y="521.1" width="13.8" height="72.9" fill="#47e9ea"/>
<rect x="623.8" y="416.5" width="13.8" height="93.6" fill="#e57979"/>
<rect x="623.8" y="509.8" width="13.8" height="84.2" fill="#44a8ee"/>
<polyline points="170.5,509.8 210.3,529.2 294.7,485.7 336.1,453.2 376.5,436.0 418.3,431.0 460.9,441.4 592.6,415.8 637.3,448.3" fill="none" stroke="#fadb14" stroke-width="3.4" stroke-linejoin="round" stroke-linecap="round"/>
<text x="168.4" y="642.9" font-size="14" font-family="'Noto Sans CJK SC','Liberation Sans',sans-serif" fill="#8e95a1" textLength="21.2" lengthAdjust="spacingAndGlyphs">1月</text>
<text x="207.8" y="642.9" font-size="14" font-family="'Noto Sans CJK SC','Liberation Sans',sans-serif" fill="#8e95a1" textLength="21.2" lengthAdjust="spacingAndGlyphs">2月</text>
<text x="247.2" y="642.9" font-size="14" font-family="'Noto Sans CJK SC','Liberation Sans',sans-serif" fill="#8e95a1" textLength="21.2" lengthAdjust="spacingAndGlyphs">3月</text>
<text x="286.1" y="642.9" font-size="14" font-family="'Noto Sans CJK SC','Liberation Sans',sans-serif" fill="#8e95a1" textLength="21.2" lengthAdjust="spacingAndGlyphs">4月</text>
<text x="325.4" y="642.9" font-size="14" font-family="'Noto Sans CJK SC','Liberation Sans',sans-serif" fill="#8e95a1" textLength="21.2" lengthAdjust="spacingAndGlyphs">5月</text>
<text x="364.6" y="642.9" font-size="14" font-family="'Noto Sans CJK SC','Liberation Sans',sans-serif" fill="#8e95a1" textLength="21.2" lengthAdjust="spacingAndGlyphs">6月</text>
<text x="403.5" y="642.9" font-size="14" font-family="'Noto Sans CJK SC','Liberation Sans',sans-serif" fill="#8e95a1" textLength="21.2" lengthAdjust="spacingAndGlyphs">7月</text>
<text x="442.6" y="642.9" font-size="14" font-family="'Noto Sans CJK SC','Liberation Sans',sans-serif" fill="#8e95a1" textLength="21.2" lengthAdjust="spacingAndGlyphs">8月</text>
<text x="481.5" y="642.9" font-size="14" font-family="'Noto Sans CJK SC','Liberation Sans',sans-serif" fill="#8e95a1" textLength="21.2" lengthAdjust="spacingAndGlyphs">9月</text>
<text x="521.4" y="642.9" font-size="14" font-family="'Noto Sans CJK SC','Liberation Sans',sans-serif" fill="#8e95a1" textLength="28.8" lengthAdjust="spacingAndGlyphs">10月</text>
<text x="568.9" y="642.9" font-size="14" font-family="'Noto Sans CJK SC','Liberation Sans',sans-serif" fill="#8e95a1" textLength="28.8" lengthAdjust="spacingAndGlyphs">11月</text>
<text x="615.6" y="642.9" font-size="14" font-family="'Noto Sans CJK SC','Liberation Sans',sans-serif" fill="#8e95a1" textLength="28.8" lengthAdjust="spacingAndGlyphs">12月</text>
<line x1="792.0" y1="386.5" x2="1260.5" y2="386.5" stroke="#5c626d" stroke-width="1.1" stroke-dasharray="6.3 2.5"/>
<line x1="792.0" y1="428.1" x2="1260.5" y2="428.1" stroke="#5c626d" stroke-width="1.1" stroke-dasharray="6.3 2.5"/>
<line x1="792.0" y1="469.4" x2="1260.5" y2="469.4" stroke="#5c626d" stroke-width="1.1" stroke-dasharray="6.3 2.5"/>
<line x1="792.0" y1="510.8" x2="1260.5" y2="510.8" stroke="#5c626d" stroke-width="1.1" stroke-dasharray="6.3 2.5"/>
<line x1="792.0" y1="552.4" x2="1260.5" y2="552.4" stroke="#5c626d" stroke-width="1.1" stroke-dasharray="6.3 2.5"/>
<line x1="792.0" y1="594.0" x2="1260.5" y2="594.0" stroke="#5c626d" stroke-width="1.1" stroke-dasharray="6.3 2.5"/>
<text x="757.3" y="387.7" font-size="14.4" font-family="'Noto Sans CJK SC','Liberation Sans',sans-serif" fill="#8e95a1" font-weight="500" textLength="22.6" lengthAdjust="spacingAndGlyphs">100</text>
<text x="757.3" y="430.5" font-size="14.4" font-family="'Noto Sans CJK SC','Liberation Sans',sans-serif" fill="#8e95a1" font-weight="500" textLength="16.4" lengthAdjust="spacingAndGlyphs">80</text>
<text x="757.3" y="472.6" font-size="14.4" font-family="'Noto Sans CJK SC','Liberation Sans',sans-serif" fill="#8e95a1" font-weight="500" textLength="16.4" lengthAdjust="spacingAndGlyphs">60</text>
<text x="757.3" y="514.8" font-size="14.4" font-family="'Noto Sans CJK SC','Liberation Sans',sans-serif" fill="#8e95a1" font-weight="500" textLength="16.4" lengthAdjust="spacingAndGlyphs">40</text>
<text x="757.3" y="557.0" font-size="14.4" font-family="'Noto Sans CJK SC','Liberation Sans',sans-serif" fill="#8e95a1" font-weight="500" textLength="16.4" lengthAdjust="spacingAndGlyphs">20</text>
<text x="764.4" y="598.5" font-size="14.4" font-family="'Noto Sans CJK SC','Liberation Sans',sans-serif" fill="#8e95a1" font-weight="500" textLength="8.0" lengthAdjust="spacingAndGlyphs">0</text>
<rect x="864.5" y="552.9" width="14.1" height="22.2" fill="#f0b862"/>
<rect x="864.5" y="574.8" width="14.1" height="19.2" fill="#47e9ea"/>
<rect x="881.0" y="546.2" width="14.1" height="25.7" fill="#e57979"/>
<rect x="881.0" y="571.6" width="14.1" height="22.4" fill="#44a8ee"/>
<rect x="903.9" y="557.3" width="14.1" height="14.6" fill="#f0b862"/>
<rect x="903.9" y="571.6" width="14.1" height="22.4" fill="#47e9ea"/>
<rect x="921.4" y="504.9" width="14.1" height="47.3" fill="#e57979"/>
<rect x="921.4" y="551.9" width="14.1" height="42.1" fill="#44a8ee"/>
<rect x="945.3" y="562.7" width="14.1" height="12.4" fill="#f0b862"/>
<rect x="945.3" y="574.8" width="14.1" height="19.2" fill="#47e9ea"/>
<rect x="961.6" y="572.6" width="14.1" height="8.9" fill="#e57979"/>
<rect x="961.6" y="581.2" width="14.1" height="12.8" fill="#44a8ee"/>
<rect x="984.2" y="533.2" width="14.1" height="32.5" fill="#f0b862"/>
<rect x="984.2" y="565.4" width="14.1" height="28.6" fill="#47e9ea"/>
<rect x="1001.0" y="523.6" width="14.1" height="37.4" fill="#e57979"/>
<rect x="1001.0" y="560.7" width="14.1" height="33.3" fill="#44a8ee"/>
<rect x="1023.4" y="538.8" width="14.1" height="21.0" fill="#f0b862"/>
<rect x="1023.4" y="559.5" width="14.1" height="34.5" fill="#47e9ea"/>
<rect x="1040.0" y="461.3" width="14.1" height="70.0" fill="#e57979"/>
<rect x="1040.0" y="531.0" width="14.1" height="63.0" fill="#44a8ee"/>
<rect x="1060.9" y="547.7" width="14.1" height="18.0" fill="#f0b862"/>
<rect x="1060.9" y="565.4" width="14.1" height="28.6" fill="#47e9ea"/>
<rect x="1077.7" y="562.7" width="14.1" height="12.6" fill="#e57979"/>
<rect x="1077.7" y="575.0" width="14.1" height="19.0" fill="#44a8ee"/>
<rect x="1102.3" y="556.3" width="14.1" height="20.0" fill="#f0b862"/>
<rect x="1102.3" y="576.0" width="14.1" height="18.0" fill="#47e9ea"/>
<rect x="1119.8" y="549.7" width="14.1" height="23.2" fill="#e57979"/>
<rect x="1119.8" y="572.6" width="14.1" height="21.4" fill="#44a8ee"/>
<rect x="1142.7" y="559.5" width="14.1" height="13.4" fill="#f0b862"/>
<rect x="1142.7" y="572.6" width="14.1" height="21.4" fill="#47e9ea"/>
<rect x="1159.2" y="510.5" width="14.1" height="43.9" fill="#e57979"/>
<rect x="1159.2" y="554.1" width="14.1" height="39.9" fill="#44a8ee"/>
<rect x="1185.2" y="564.9" width="14.1" height="11.4" fill="#f0b862"/>
<rect x="1185.2" y="576.0" width="14.1" height="18.0" fill="#47e9ea"/>
<rect x="1201.7" y="574.8" width="14.1" height="7.7" fill="#e57979"/>
<rect x="1201.7" y="582.2" width="14.1" height="11.8" fill="#44a8ee"/>
<rect x="1228.1" y="501.7" width="14.1" height="49.3" fill="#f0b862"/>
<rect x="1228.1" y="550.7" width="14.1" height="43.3" fill="#47e9ea"/>
<rect x="1244.6" y="486.4" width="14.1" height="56.9" fill="#e57979"/>
<rect x="1244.6" y="543.0" width="14.1" height="51.0" fill="#44a8ee"/>
<polyline points="792.4,593.7 832.3,582.2 915.2,539.3 957.1,507.3 998.9,489.9 1040.0,484.4 1082.6,494.5 1214.8,469.4 1259.1,501.7" fill="none" stroke="#fadb14" stroke-width="3.4" stroke-linejoin="round" stroke-linecap="round"/>
<text x="790.2" y="642.9" font-size="14" font-family="'Noto Sans CJK SC','Liberation Sans',sans-serif" fill="#8e95a1" textLength="21.2" lengthAdjust="spacingAndGlyphs">1月</text>
<text x="829.6" y="642.9" font-size="14" font-family="'Noto Sans CJK SC','Liberation Sans',sans-serif" fill="#8e95a1" textLength="21.2" lengthAdjust="spacingAndGlyphs">2月</text>
<text x="869.0" y="642.9" font-size="14" font-family="'Noto Sans CJK SC','Liberation Sans',sans-serif" fill="#8e95a1" textLength="21.2" lengthAdjust="spacingAndGlyphs">3月</text>
<text x="907.9" y="642.9" font-size="14" font-family="'Noto Sans CJK SC','Liberation Sans',sans-serif" fill="#8e95a1" textLength="21.2" lengthAdjust="spacingAndGlyphs">4月</text>
<text x="947.2" y="642.9" font-size="14" font-family="'Noto Sans CJK SC','Liberation Sans',sans-serif" fill="#8e95a1" textLength="21.2" lengthAdjust="spacingAndGlyphs">5月</text>
<text x="986.4" y="642.9" font-size="14" font-family="'Noto Sans CJK SC','Liberation Sans',sans-serif" fill="#8e95a1" textLength="21.2" lengthAdjust="spacingAndGlyphs">6月</text>
<text x="1025.3" y="642.9" font-size="14" font-family="'Noto Sans CJK SC','Liberation Sans',sans-serif" fill="#8e95a1" textLength="21.2" lengthAdjust="spacingAndGlyphs">7月</text>
<text x="1064.4" y="642.9" font-size="14" font-family="'Noto Sans CJK SC','Liberation Sans',sans-serif" fill="#8e95a1" textLength="21.2" lengthAdjust="spacingAndGlyphs">8月</text>
<text x="1103.3" y="642.9" font-size="14" font-family="'Noto Sans CJK SC','Liberation Sans',sans-serif" fill="#8e95a1" textLength="21.2" lengthAdjust="spacingAndGlyphs">9月</text>
<text x="1143.2" y="642.9" font-size="14" font-family="'Noto Sans CJK SC','Liberation Sans',sans-serif" fill="#8e95a1" textLength="28.8" lengthAdjust="spacingAndGlyphs">10月</text>
<text x="1190.7" y="642.9" font-size="14" font-family="'Noto Sans CJK SC','Liberation Sans',sans-serif" fill="#8e95a1" textLength="28.8" lengthAdjust="spacingAndGlyphs">11月</text>
<text x="1237.4" y="642.9" font-size="14" font-family="'Noto Sans CJK SC','Liberation Sans',sans-serif" fill="#8e95a1" textLength="28.8" lengthAdjust="spacingAndGlyphs">12月</text>
<text x="1429.2" y="266.0" font-size="18" font-style="italic" font-family="'Liberation Sans','Noto Sans CJK SC',sans-serif" fill="#3fe6ec" stroke="#3fe6ec" stroke-width="0.35" textLength="188.7" lengthAdjust="spacingAndGlyphs">Project Stability Alert Map</text>
<rect x="1910.3" y="255.9" width="13.2" height="8.9" fill="#e57979"/>
<text x="1929.8" y="265.0" font-size="13" font-family="'Noto Sans CJK SC','Liberation Sans',sans-serif" fill="#e8eaf0" textLength="27.2" lengthAdjust="spacingAndGlyphs">Alert</text>
<rect x="1983.7" y="255.9" width="13.2" height="8.9" fill="#47e9ea"/>
<text x="2003.2" y="265.0" font-size="13" font-family="'Noto Sans CJK SC','Liberation Sans',sans-serif" fill="#e8eaf0" textLength="41.9" lengthAdjust="spacingAndGlyphs">Normal</text>
<circle cx="1743.1" cy="478.5" r="117.8" fill="#e57979"/>
<path d="M1743.1 478.5 L1743.1 350.9 A127.6 127.6 0 0 1 1851.5 545.7 Z" fill="#47e9ea"/>
<polyline points="1870.8,417.9 1921.8,417.9 1951.8,392.8" fill="none" stroke="#8a8f9b" stroke-width="1"/>
<polyline points="1558.8,536.4 1588.3,561.5 1639.8,561.5" fill="none" stroke="#8a8f9b" stroke-width="1"/>
<text x="1920.6" y="385.2" font-size="13.2" font-family="'Noto Sans CJK SC','Liberation Sans',sans-serif" fill="#f2f3f6" textLength="61.9" lengthAdjust="spacingAndGlyphs">30%(29%)</text>
<text x="1524.9" y="523.6" font-size="13.2" font-family="'Noto Sans CJK SC','Liberation Sans',sans-serif" fill="#f2f3f6" textLength="62.6" lengthAdjust="spacingAndGlyphs">70%(68%)</text>
<text x="70.0" y="733.7" font-size="18" font-style="italic" font-family="'Liberation Sans','Noto Sans CJK SC',sans-serif" fill="#3fe6ec" stroke="#3fe6ec" stroke-width="0.35" textLength="192.7" lengthAdjust="spacingAndGlyphs">Project Stage Composition</text>
<path d="M365.8 817.0 A120.4 120.4 0 1 1 277.0 1018.7 L308.9 989.6 A77.2 77.2 0 1 0 365.8 860.2 Z" fill="#3b8ff0"/>
<path d="M277.0 1018.7 A120.4 120.4 0 0 1 262.1 876.3 L299.3 898.2 A77.2 77.2 0 0 0 308.9 989.6 Z" fill="#a96cf8"/>
<path d="M262.1 876.3 A120.4 120.4 0 0 1 304.7 833.7 L326.6 870.9 A77.2 77.2 0 0 0 299.3 898.2 Z" fill="#47e9ea"/>
<path d="M304.7 833.7 A120.4 120.4 0 0 1 365.8 817.0 L365.8 860.2 A77.2 77.2 0 0 0 326.6 870.9 Z" fill="#3156f6"/>
<line x1="365.8" y1="862.2" x2="365.8" y2="815.0" stroke="#242833" stroke-width="5.4"/>
<line x1="310.4" y1="988.2" x2="275.6" y2="1020.1" stroke="#242833" stroke-width="5.0"/>
<line x1="301.0" y1="899.2" x2="260.3" y2="875.3" stroke="#242833" stroke-width="5.0"/>
<line x1="327.6" y1="872.6" x2="303.7" y2="831.9" stroke="#242833" stroke-width="5.0"/>
<polyline points="327.2,805.3 351.2,775.8 397,775.8" fill="none" stroke="#8a8f9b" stroke-width="1"/>
<polyline points="189.6,825.2 215.5,838.4 267.4,838.4" fill="none" stroke="#8a8f9b" stroke-width="1"/>
<polyline points="144.9,932.2 174.8,957.3 226.7,957.3" fill="none" stroke="#8a8f9b" stroke-width="1"/>
<polyline points="501.6,975.2 531.5,950.1 582.6,950.1" fill="none" stroke="#8a8f9b" stroke-width="1"/>
<text x="408.2" y="781.8" font-size="13.2" font-family="'Noto Sans CJK SC','Liberation Sans',sans-serif" fill="#f2f3f6" textLength="26.7" lengthAdjust="spacingAndGlyphs">11%</text>
<text x="158.4" y="824.0" font-size="13.2" font-family="'Noto Sans CJK SC','Liberation Sans',sans-serif" fill="#f2f3f6" textLength="26.4" lengthAdjust="spacingAndGlyphs">10%</text>
<text x="119.3" y="920.2" font-size="13.2" font-family="'Noto Sans CJK SC','Liberation Sans',sans-serif" fill="#f2f3f6" textLength="26.4" lengthAdjust="spacingAndGlyphs">30%</text>
<text x="594.5" y="956.1" font-size="13.2" font-family="'Noto Sans CJK SC','Liberation Sans',sans-serif" fill="#f2f3f6" textLength="26.4" lengthAdjust="spacingAndGlyphs">70%</text>
<rect x="164.4" y="1105.6" width="14.3" height="14.2" fill="#3b8ff0"/>
<text x="187.6" y="1117.2" font-size="12.4" font-family="'Liberation Sans','Noto Sans CJK SC',sans-serif" fill="#e8eaf0" textLength="43.1" lengthAdjust="spacingAndGlyphs">Prepare</text>
<rect x="282.1" y="1105.6" width="14.3" height="14.2" fill="#3156f6"/>
<text x="302.9" y="1117.2" font-size="12.4" font-family="'Liberation Sans','Noto Sans CJK SC',sans-serif" fill="#e8eaf0" textLength="57.0" lengthAdjust="spacingAndGlyphs">Implement</text>
<rect x="399.0" y="1105.6" width="14.3" height="14.2" fill="#47e9ea"/>
<text x="418.6" y="1117.2" font-size="12.4" font-family="'Liberation Sans','Noto Sans CJK SC',sans-serif" fill="#e8eaf0" textLength="65.4" lengthAdjust="spacingAndGlyphs">Deployment</text>
<rect x="506.0" y="1105.6" width="14.3" height="14.2" fill="#a96cf8"/>
<text x="527.9" y="1117.2" font-size="12.4" font-family="'Liberation Sans','Noto Sans CJK SC',sans-serif" fill="#e8eaf0" textLength="71.0" lengthAdjust="spacingAndGlyphs">Maintenance</text>
<text x="753.2" y="733.7" font-size="18" font-style="italic" font-family="'Liberation Sans','Noto Sans CJK SC',sans-serif" fill="#3fe6ec" stroke="#3fe6ec" stroke-width="0.35" textLength="196.7" lengthAdjust="spacingAndGlyphs">Monthly Target Delay Alert</text>
<rect x="1078.7" y="722.6" width="14.2" height="14.2" fill="#47e9ea"/>
<text x="1099.9" y="734.4" font-size="12.4" font-family="'Liberation Sans','Noto Sans CJK SC',sans-serif" fill="#e8eaf0" textLength="38.7" lengthAdjust="spacingAndGlyphs">Normal</text>
<rect x="1169.7" y="722.6" width="14.2" height="14.2" fill="#a96cf8"/>
<text x="1189.7" y="734.4" font-size="12.4" font-family="'Liberation Sans','Noto Sans CJK SC',sans-serif" fill="#e8eaf0" textLength="75.0" lengthAdjust="spacingAndGlyphs">Warning Alert</text>
<rect x="1283.9" y="722.6" width="14.2" height="14.2" fill="#e57979"/>
<text x="1305.4" y="734.4" font-size="12.4" font-family="'Liberation Sans','Noto Sans CJK SC',sans-serif" fill="#e8eaf0" textLength="69.5" lengthAdjust="spacingAndGlyphs">Critical Alert</text>
<line x1="833.7" y1="809.7" x2="1302.2" y2="809.7" stroke="#5c626d" stroke-width="1.1" stroke-dasharray="6.3 2.5"/>
<text x="798.6" y="810.8" font-size="14.4" font-family="'Noto Sans CJK SC','Liberation Sans',sans-serif" fill="#8e95a1" font-weight="500" textLength="22.8" lengthAdjust="spacingAndGlyphs">100</text>
<line x1="833.7" y1="858.0" x2="1302.2" y2="858.0" stroke="#5c626d" stroke-width="1.1" stroke-dasharray="6.3 2.5"/>
<text x="798.6" y="859.7" font-size="14.4" font-family="'Noto Sans CJK SC','Liberation Sans',sans-serif" fill="#8e95a1" font-weight="500" textLength="16.0" lengthAdjust="spacingAndGlyphs">80</text>
<line x1="833.7" y1="906.7" x2="1302.2" y2="906.7" stroke="#5c626d" stroke-width="1.1" stroke-dasharray="6.3 2.5"/>
<text x="798.6" y="909.1" font-size="14.4" font-family="'Noto Sans CJK SC','Liberation Sans',sans-serif" fill="#8e95a1" font-weight="500" textLength="16.0" lengthAdjust="spacingAndGlyphs">60</text>
<line x1="833.7" y1="955.0" x2="1302.2" y2="955.0" stroke="#5c626d" stroke-width="1.1" stroke-dasharray="6.3 2.5"/>
<text x="798.6" y="958.0" font-size="14.4" font-family="'Noto Sans CJK SC','Liberation Sans',sans-serif" fill="#8e95a1" font-weight="500" textLength="16.0" lengthAdjust="spacingAndGlyphs">40</text>
<line x1="833.7" y1="1002.8" x2="1302.2" y2="1002.8" stroke="#5c626d" stroke-width="1.1" stroke-dasharray="6.3 2.5"/>
<text x="798.6" y="1006.4" font-size="14.4" font-family="'Noto Sans CJK SC','Liberation Sans',sans-serif" fill="#8e95a1" font-weight="500" textLength="16.0" lengthAdjust="spacingAndGlyphs">20</text>
<line x1="833.7" y1="1051.1" x2="1302.2" y2="1051.1" stroke="#5c626d" stroke-width="1.1" stroke-dasharray="6.3 2.5"/>
<text x="807.0" y="1055.4" font-size="14.4" font-family="'Noto Sans CJK SC','Liberation Sans',sans-serif" fill="#8e95a1" font-weight="500" textLength="8.0" lengthAdjust="spacingAndGlyphs">0</text>
<rect x="842.9" y="910.7" width="25.1" height="38.6" fill="#e57979"/>
<rect x="842.9" y="949.0" width="25.1" height="38.2" fill="#a96cf8"/>
<rect x="842.9" y="986.9" width="25.1" height="65.0" fill="#47e9ea"/>
<text x="843.1" y="1106.9" font-size="14" font-family="'Noto Sans CJK SC','Liberation Sans',sans-serif" fill="#8e95a1" textLength="21.2" lengthAdjust="spacingAndGlyphs">7月</text>
<rect x="919.9" y="961.3" width="25.1" height="24.7" fill="#e57979"/>
<rect x="919.9" y="985.7" width="25.1" height="25.0" fill="#a96cf8"/>
<rect x="919.9" y="1010.4" width="25.1" height="41.5" fill="#47e9ea"/>
<text x="920.1" y="1106.9" font-size="14" font-family="'Noto Sans CJK SC','Liberation Sans',sans-serif" fill="#8e95a1" textLength="21.2" lengthAdjust="spacingAndGlyphs">8月</text>
<rect x="1002.9" y="828.1" width="25.1" height="60.5" fill="#e57979"/>
<rect x="1002.9" y="888.3" width="25.1" height="61.4" fill="#a96cf8"/>
<rect x="1002.9" y="949.4" width="25.1" height="102.5" fill="#47e9ea"/>
<text x="1006.3" y="1106.9" font-size="14" font-family="'Noto Sans CJK SC','Liberation Sans',sans-serif" fill="#8e95a1" textLength="21.2" lengthAdjust="spacingAndGlyphs">9月</text>
<rect x="1094.7" y="877.1" width="25.1" height="24.7" fill="#e57979"/>
<rect x="1094.7" y="901.5" width="25.1" height="25.4" fill="#a96cf8"/>
<rect x="1094.7" y="926.6" width="25.1" height="125.3" fill="#47e9ea"/>
<text x="1092.1" y="1106.9" font-size="14" font-family="'Noto Sans CJK SC','Liberation Sans',sans-serif" fill="#8e95a1" textLength="28.8" lengthAdjust="spacingAndGlyphs">10月</text>
<rect x="1186.1" y="910.7" width="25.1" height="16.2" fill="#e57979"/>
<rect x="1186.1" y="926.6" width="25.1" height="47.4" fill="#a96cf8"/>
<rect x="1186.1" y="973.7" width="25.1" height="78.2" fill="#47e9ea"/>
<text x="1185.5" y="1106.9" font-size="14" font-family="'Noto Sans CJK SC','Liberation Sans',sans-serif" fill="#8e95a1" textLength="28.8" lengthAdjust="spacingAndGlyphs">11月</text>
<rect x="1269.1" y="961.3" width="25.1" height="24.7" fill="#e57979"/>
<rect x="1269.1" y="985.7" width="25.1" height="25.0" fill="#a96cf8"/>
<rect x="1269.1" y="1010.4" width="25.1" height="41.5" fill="#47e9ea"/>
<text x="1266.5" y="1106.9" font-size="14" font-family="'Noto Sans CJK SC','Liberation Sans',sans-serif" fill="#8e95a1" textLength="28.8" lengthAdjust="spacingAndGlyphs">12月</text>
<text x="1431.2" y="733.7" font-size="18" font-style="italic" font-family="'Liberation Sans','Noto Sans CJK SC',sans-serif" fill="#3fe6ec" stroke="#3fe6ec" stroke-width="0.35" textLength="404.6" lengthAdjust="spacingAndGlyphs">Top 10 Projects: Schedule Progress vs. Budget Burn Rate</text>
<defs><linearGradient id="gA" x1="0" x2="1" y1="0" y2="0"><stop offset="0" stop-color="#1b5fb8"/><stop offset="1" stop-color="#4a9ef6"/></linearGradient><linearGradient id="gB" x1="0" x2="1" y1="0" y2="0"><stop offset="0" stop-color="#c44ee4"/><stop offset="1" stop-color="#ea62c4"/></linearGradient><linearGradient id="gC" x1="0" x2="1" y1="0" y2="0"><stop offset="0" stop-color="#f08d1e"/><stop offset="1" stop-color="#e6bc30"/></linearGradient><linearGradient id="gD" x1="0" x2="1" y1="0" y2="0"><stop offset="0" stop-color="#1f86dc"/><stop offset="1" stop-color="#1fc4d2"/></linearGradient></defs>
<line x1="1566.6" y1="794" x2="1566.6" y2="1111.8" stroke="#1d4660" stroke-width="1.2"/>
<text x="1566.8" y="782.3" font-size="13.4" font-family="'Noto Sans CJK SC','Liberation Sans',sans-serif" fill="#f0f2f5" text-anchor="middle">0</text>
<text x="1702.3" y="782.3" font-size="13.4" font-family="'Noto Sans CJK SC','Liberation Sans',sans-serif" fill="#f0f2f5" text-anchor="middle">50</text>
<text x="1899.3" y="782.3" font-size="13.4" font-family="'Noto Sans CJK SC','Liberation Sans',sans-serif" fill="#f0f2f5" text-anchor="middle">100</text>
<rect x="1580.5" y="799.7" width="234.7" height="4.5" fill="url(#gA)"/>
<rect x="1580.5" y="804.1" width="255.3" height="4.5" fill="url(#gB)"/>
<rect x="1580.5" y="808.4" width="319.5" height="4.5" fill="url(#gC)"/>
<rect x="1580.5" y="812.8" width="255.3" height="4.5" fill="url(#gD)"/>
<text x="1551.2" y="814.0" font-size="14.4" font-family="'Noto Sans CJK SC','Liberation Sans',sans-serif" fill="#f0f2f5" text-anchor="end" textLength="54.2" lengthAdjust="spacingAndGlyphs">Project 1</text>
<rect x="1580.5" y="832.0" width="213.8" height="4.5" fill="url(#gA)"/>
<rect x="1580.5" y="836.4" width="183.3" height="4.5" fill="url(#gB)"/>
<rect x="1580.5" y="840.7" width="319.5" height="4.5" fill="url(#gC)"/>
<rect x="1580.5" y="845.0" width="158.3" height="4.5" fill="url(#gD)"/>
<text x="1551.2" y="846.1" font-size="14.4" font-family="'Noto Sans CJK SC','Liberation Sans',sans-serif" fill="#f0f2f5" text-anchor="end" textLength="54.2" lengthAdjust="spacingAndGlyphs">Project 2</text>
<rect x="1580.5" y="864.1" width="234.7" height="4.5" fill="url(#gA)"/>
<rect x="1580.5" y="868.5" width="255.3" height="4.5" fill="url(#gB)"/>
<rect x="1580.5" y="872.8" width="319.5" height="4.5" fill="url(#gC)"/>
<rect x="1580.5" y="877.1" width="255.3" height="4.5" fill="url(#gD)"/>
<text x="1551.2" y="878.6" font-size="14.4" font-family="'Noto Sans CJK SC','Liberation Sans',sans-serif" fill="#f0f2f5" text-anchor="end" textLength="54.2" lengthAdjust="spacingAndGlyphs">Project 3</text>
<rect x="1580.5" y="896.6" width="213.8" height="4.5" fill="url(#gA)"/>
<rect x="1580.5" y="901.0" width="183.3" height="4.5" fill="url(#gB)"/>
<rect x="1580.5" y="905.3" width="319.5" height="4.5" fill="url(#gC)"/>
<rect x="1580.5" y="909.6" width="158.3" height="4.5" fill="url(#gD)"/>
<text x="1551.2" y="910.4" font-size="14.4" font-family="'Noto Sans CJK SC','Liberation Sans',sans-serif" fill="#f0f2f5" text-anchor="end" textLength="54.2" lengthAdjust="spacingAndGlyphs">Project 4</text>
<rect x="1580.5" y="929.3" width="234.7" height="4.5" fill="url(#gA)"/>
<rect x="1580.5" y="933.6" width="255.3" height="4.5" fill="url(#gB)"/>
<rect x="1580.5" y="938.0" width="319.5" height="4.5" fill="url(#gC)"/>
<rect x="1580.5" y="942.3" width="255.3" height="4.5" fill="url(#gD)"/>
<text x="1551.2" y="942.1" font-size="14.4" font-family="'Noto Sans CJK SC','Liberation Sans',sans-serif" fill="#f0f2f5" text-anchor="end" textLength="54.2" lengthAdjust="spacingAndGlyphs">Project 5</text>
<rect x="1580.5" y="961.8" width="213.8" height="4.5" fill="url(#gA)"/>
<rect x="1580.5" y="966.1" width="183.3" height="4.5" fill="url(#gB)"/>
<rect x="1580.5" y="970.5" width="319.5" height="4.5" fill="url(#gC)"/>
<rect x="1580.5" y="974.8" width="158.3" height="4.5" fill="url(#gD)"/>
<text x="1551.2" y="974.4" font-size="14.4" font-family="'Noto Sans CJK SC','Liberation Sans',sans-serif" fill="#f0f2f5" text-anchor="end" textLength="54.2" lengthAdjust="spacingAndGlyphs">Project 6</text>
<rect x="1580.5" y="994.7" width="234.7" height="4.5" fill="url(#gA)"/>
<rect x="1580.5" y="999.1" width="255.3" height="4.5" fill="url(#gB)"/>
<rect x="1580.5" y="1003.4" width="319.5" height="4.5" fill="url(#gC)"/>
<rect x="1580.5" y="1007.8" width="255.3" height="4.5" fill="url(#gD)"/>
<text x="1551.2" y="1006.6" font-size="14.4" font-family="'Noto Sans CJK SC','Liberation Sans',sans-serif" fill="#f0f2f5" text-anchor="end" textLength="54.2" lengthAdjust="spacingAndGlyphs">Project 7</text>
<rect x="1580.5" y="1027.2" width="213.8" height="4.5" fill="url(#gA)"/>
<rect x="1580.5" y="1031.5" width="183.3" height="4.5" fill="url(#gB)"/>
<rect x="1580.5" y="1035.9" width="319.5" height="4.5" fill="url(#gC)"/>
<rect x="1580.5" y="1040.2" width="158.3" height="4.5" fill="url(#gD)"/>
<text x="1551.2" y="1038.2" font-size="14.4" font-family="'Noto Sans CJK SC','Liberation Sans',sans-serif" fill="#f0f2f5" text-anchor="end" textLength="54.2" lengthAdjust="spacingAndGlyphs">Project 8</text>
<rect x="1580.5" y="1059.9" width="234.7" height="4.5" fill="url(#gA)"/>
<rect x="1580.5" y="1064.2" width="255.3" height="4.5" fill="url(#gB)"/>
<rect x="1580.5" y="1068.6" width="319.5" height="4.5" fill="url(#gC)"/>
<rect x="1580.5" y="1073.0" width="255.3" height="4.5" fill="url(#gD)"/>
<text x="1551.2" y="1070.5" font-size="14.4" font-family="'Noto Sans CJK SC','Liberation Sans',sans-serif" fill="#f0f2f5" text-anchor="end" textLength="54.2" lengthAdjust="spacingAndGlyphs">Project 9</text>
<rect x="1580.5" y="1092.6" width="213.8" height="4.5" fill="url(#gA)"/>
<rect x="1580.5" y="1096.9" width="183.3" height="4.5" fill="url(#gB)"/>
<rect x="1580.5" y="1101.3" width="319.5" height="4.5" fill="url(#gC)"/>
<rect x="1580.5" y="1105.6" width="158.3" height="4.5" fill="url(#gD)"/>
<text x="1551.2" y="1102.1" font-size="14.4" font-family="'Noto Sans CJK SC','Liberation Sans',sans-serif" fill="#f0f2f5" text-anchor="end" textLength="62.2" lengthAdjust="spacingAndGlyphs">Project 10</text>
<rect x="1945.0" y="895.8" width="10.5" height="10.5" fill="#3f8ff0"/>
<text x="1961.7" y="905.5" font-size="12.4" font-family="'Liberation Sans','Noto Sans CJK SC',sans-serif" fill="#e8eaf0" textLength="34.3" lengthAdjust="spacingAndGlyphs">Actual</text>
<rect x="1945.0" y="920.6" width="10.5" height="10.5" fill="#3fe3ee"/>
<text x="1961.7" y="930.3" font-size="12.4" font-family="'Liberation Sans','Noto Sans CJK SC',sans-serif" fill="#e8eaf0" textLength="23.0" lengthAdjust="spacingAndGlyphs">Plan</text>
<rect x="1945.0" y="947.3" width="10.5" height="10.5" fill="#e8b428"/>
<text x="1961.7" y="957.0" font-size="12.4" font-family="'Liberation Sans','Noto Sans CJK SC',sans-serif" fill="#e8eaf0" textLength="47.0" lengthAdjust="spacingAndGlyphs">Baseline</text>
<rect x="1945.0" y="973.3" width="10.5" height="10.5" fill="#d458d8"/>
<text x="1961.7" y="983.0" font-size="12.4" font-family="'Liberation Sans','Noto Sans CJK SC',sans-serif" fill="#e8eaf0" textLength="39.0" lengthAdjust="spacingAndGlyphs">Budget</text>
<text x="55.0" y="184.1" font-size="24.6" font-weight="bold" font-family="'Liberation Sans',sans-serif" fill="#fff" stroke="#fff" stroke-width="0.7" stroke-linejoin="round" textLength="96.3" lengthAdjust="spacingAndGlyphs">KanBan</text>
<path d="M187.77 168.66 L192.63 168.66 L192.46 170.72 L194.16 171.70 L195.86 170.53 L198.29 174.73 L196.42 175.61 L196.42 177.59 L198.29 178.47 L195.86 182.67 L194.16 181.50 L192.46 182.48 L192.63 184.54 L187.77 184.54 L187.94 182.48 L186.24 181.50 L184.54 182.67 L182.11 178.47 L183.98 177.59 L183.98 175.61 L182.11 174.73 L184.54 170.53 L186.24 171.70 L187.94 170.72 Z" fill="none" stroke="#fff" stroke-width="1.5" stroke-linejoin="round"/>
<circle cx="190.2" cy="176.6" r="2.7" fill="none" stroke="#fff" stroke-width="1.5"/>
<path d="M219.3 182.6 H217.6 A2.2 2.2 0 0 1 215.4 180.4 V171.2 A2.2 2.2 0 0 1 217.6 169 H229.8 A2.2 2.2 0 0 1 232 171.2 V180.4 A2.2 2.2 0 0 1 229.8 182.6 H228.1" fill="none" stroke="#fff" stroke-width="1.5" stroke-linecap="round"/>
<path d="M219.6 175.3 A5.2 5.2 0 0 1 227.8 175.3" fill="none" stroke="#fff" stroke-width="1.5" stroke-linecap="round"/>
<path d="M221.3 178.3 A3.2 3.2 0 0 1 226.1 178.3" fill="none" stroke="#fff" stroke-width="1.4" stroke-linecap="round"/>
<rect x="220.3" y="180.6" width="6.8" height="3.4" rx="1.7" fill="none" stroke="#fff" stroke-width="1.4"/>
<text x="1292.7" y="184.3" font-size="13.6" font-family="'Liberation Sans','Noto Sans CJK SC',sans-serif" fill="#8f92a6" textLength="33.5" lengthAdjust="spacingAndGlyphs">Type:</text>
<text x="1335.9" y="184.3" font-size="13.6" font-family="'Liberation Sans','Noto Sans CJK SC',sans-serif" fill="#fff" textLength="164.4" lengthAdjust="spacingAndGlyphs">TechExcel US PPM Project</text>
<text x="1552.0" y="183.7" font-size="13.6" font-family="'Liberation Sans','Noto Sans CJK SC',sans-serif" fill="#8f92a6" textLength="75.6" lengthAdjust="spacingAndGlyphs">Department:</text>
<text x="1636.6" y="183.7" font-size="13.6" font-family="'Liberation Sans','Noto Sans CJK SC',sans-serif" fill="#fff" textLength="66.2" lengthAdjust="spacingAndGlyphs">Front Desk</text>
<text x="1754.4" y="182.3" font-size="13.6" font-family="'Liberation Sans','Noto Sans CJK SC',sans-serif" fill="#8f92a6" textLength="53.0" lengthAdjust="spacingAndGlyphs">Start up:</text>
<text x="1826.3" y="182.3" font-size="13.6" font-family="'Liberation Sans','Noto Sans CJK SC',sans-serif" fill="#fff" textLength="77.6" lengthAdjust="spacingAndGlyphs">2022–07–28</text>
<text x="1951.4" y="182.3" font-size="13.6" font-family="'Liberation Sans','Noto Sans CJK SC',sans-serif" fill="#fff" textLength="77.3" lengthAdjust="spacingAndGlyphs">2023–07–28</text>
<g fill="none" stroke="#6f6d8e" stroke-width="1"><rect x="1915.3" y="170.8" width="12.4" height="12.6"/><line x1="1915.3" y1="174.60000000000002" x2="1927.7" y2="174.60000000000002"/><rect x="1918.3" y="177.20000000000002" width="6.4" height="3.6"/><line x1="1921.5" y1="177.20000000000002" x2="1921.5" y2="180.8"/></g>
<g fill="none" stroke="#6f6d8e" stroke-width="1"><rect x="2038.4" y="170.8" width="12.4" height="12.6"/><line x1="2038.4" y1="174.60000000000002" x2="2050.8" y2="174.60000000000002"/><rect x="2041.4" y="177.20000000000002" width="6.4" height="3.6"/><line x1="2044.6000000000001" y1="177.20000000000002" x2="2044.6000000000001" y2="180.8"/></g>
<path d="M1900.1 25.6 V40.1 H1916.6 Z" fill="none" stroke="#f1f2f5" stroke-width="1.5" stroke-linejoin="round"/>
<rect x="-7.9" y="-2.4" width="15.8" height="4.8" rx="1" transform="translate(1908.6 26.9) rotate(43)" fill="#262a35" stroke="#6ba7fb" stroke-width="1.4"/>
<path d="M1943.3 37.3 V28.9 A7.4 7.4 0 0 1 1958.1 28.9 V37.3" fill="none" stroke="#f1f2f5" stroke-width="1.5"/>
<line x1="1940.8" y1="37.3" x2="1960.6" y2="37.3" stroke="#f1f2f5" stroke-width="1.5" stroke-linecap="round"/>
<line x1="1950.7" y1="19.6" x2="1950.7" y2="21.4" stroke="#f1f2f5" stroke-width="1.5" stroke-linecap="round"/>
<path d="M1948.1 38.6 A2.7 2.7 0 0 0 1953.3 38.6" fill="none" stroke="#6ba7fb" stroke-width="1.4"/>
<rect x="1985.4" y="22" width="19.4" height="18.6" rx="2" fill="none" stroke="#f1f2f5" stroke-width="1.5"/>
<line x1="1985.4" y1="26.7" x2="2004.8" y2="26.7" stroke="#f1f2f5" stroke-width="1.3"/>
<line x1="1991.3" y1="19.4" x2="1991.3" y2="24" stroke="#f1f2f5" stroke-width="1.4" stroke-linecap="round"/><line x1="1998.8" y1="19.4" x2="1998.8" y2="24" stroke="#f1f2f5" stroke-width="1.4" stroke-linecap="round"/>
<path d="M1990.4 33.4 L1993 35.7 L1998.9 31" fill="none" stroke="#6ba7fb" stroke-width="1.5" stroke-linecap="round" stroke-linejoin="round"/>
<circle cx="2054.9" cy="30.7" r="17.1" fill="#186cf2"/>
<text x="2054.9" y="36.2" font-size="14.6" font-family="'Liberation Sans','Noto Sans CJK SC',sans-serif" fill="#fff" text-anchor="middle" font-weight="bold" textLength="18.2" lengthAdjust="spacingAndGlyphs">ZZ</text>
<circle cx="1971.7" cy="86.8" r="4.6" fill="#e2e3e6"/>
<line x1="1971.70" y1="80.20" x2="1971.70" y2="76.80" stroke="#e2e3e6" stroke-width="1.5" stroke-linecap="round"/>
<line x1="1976.37" y1="82.13" x2="1978.77" y2="79.73" stroke="#e2e3e6" stroke-width="1.5" stroke-linecap="round"/>
<line x1="1978.30" y1="86.80" x2="1981.70" y2="86.80" stroke="#e2e3e6" stroke-width="1.5" stroke-linecap="round"/>
<line x1="1976.37" y1="91.47" x2="1978.77" y2="93.87" stroke="#e2e3e6" stroke-width="1.5" stroke-linecap="round"/>
<line x1="1971.70" y1="93.40" x2="1971.70" y2="96.80" stroke="#e2e3e6" stroke-width="1.5" stroke-linecap="round"/>
<line x1="1967.03" y1="91.47" x2="1964.63" y2="93.87" stroke="#e2e3e6" stroke-width="1.5" stroke-linecap="round"/>
<line x1="1965.10" y1="86.80" x2="1961.70" y2="86.80" stroke="#e2e3e6" stroke-width="1.5" stroke-linecap="round"/>
<line x1="1967.03" y1="82.13" x2="1964.63" y2="79.73" stroke="#e2e3e6" stroke-width="1.5" stroke-linecap="round"/>
<path d="M2020.59 82.72 A7.6 7.6 0 1 0 2022.08 88.72" fill="none" stroke="#f1f2f5" stroke-width="1.4" stroke-linecap="round"/>
<path d="M2022.6 79.4 V84.6 H2017.4" fill="none" stroke="#f1f2f5" stroke-width="1.4" stroke-linecap="round" stroke-linejoin="round"/>
<path d="M2045.9 84.3 V79.7 H2050.5 M2057.3 79.7 H2061.9 V84.3 M2061.9 91.10000000000001 V95.7 H2057.3 M2050.5 95.7 H2045.9 V91.10000000000001 M2061.9 79.7 L2055.5 86.10000000000001 M2045.9 95.7 L2052.3 89.3" fill="none" stroke="#f1f2f5" stroke-width="1.4" stroke-linecap="square"/>
</svg>
</body></html>
